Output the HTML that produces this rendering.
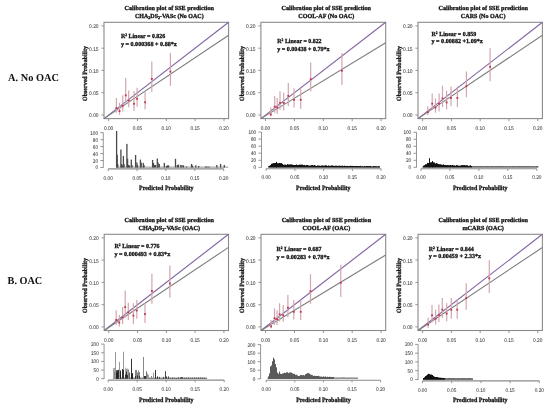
<!DOCTYPE html>
<html><head><meta charset="utf-8"><style>
html,body{margin:0;padding:0;background:#fff;width:550px;height:408px;overflow:hidden;}
svg{display:block;will-change:transform;text-rendering:geometricPrecision;}
</style></head><body>
<svg width="550" height="408" viewBox="0 0 550 408">
<rect width="550" height="408" fill="#fff"/>
<text x="8" y="81.3" font-family="Liberation Serif, serif" font-weight="bold" font-size="10.6" textLength="50.9" lengthAdjust="spacingAndGlyphs" fill="#111">A. No OAC</text>
<text x="7.6" y="283.6" font-family="Liberation Serif, serif" font-weight="bold" font-size="10.6" textLength="34.6" lengthAdjust="spacingAndGlyphs" fill="#111">B. OAC</text>
<text x="169.3" y="9.7" font-family="Liberation Serif, serif" font-weight="bold" stroke="#111" stroke-width="0.3" font-size="6.2" textLength="89.4" lengthAdjust="spacingAndGlyphs" fill="#111" text-anchor="middle">Calibration plot of SSE prediction</text>
<text x="169.3" y="17.5" font-family="Liberation Serif, serif" font-weight="bold" stroke="#111" stroke-width="0.3" font-size="6.2" textLength="68.8" lengthAdjust="spacingAndGlyphs" fill="#111" text-anchor="middle">CHA<tspan font-size="4.2" dy="1.2">2</tspan><tspan dy="-1.2">DS</tspan><tspan font-size="4.2" dy="1.2">2</tspan><tspan dy="-1.2">-VASc (No OAC)</tspan></text>
<text transform="translate(85.1,73.5) rotate(-90)" x="0" y="2" font-family="Liberation Serif, serif" font-weight="bold" stroke="#111" stroke-width="0.3" font-size="6.5" textLength="55" lengthAdjust="spacingAndGlyphs" fill="#222" text-anchor="middle">Observed Probability</text>
<rect x="104.0" y="22.3" width="124.6" height="96.3" fill="none" stroke="#8a8a8a" stroke-width="1.1"/>
<line x1="108.6" y1="118.6" x2="108.6" y2="121.2" stroke="#8a8a8a" stroke-width="0.9"/>
<text x="108.6" y="129.9" font-family="Liberation Sans, sans-serif" stroke="#666" stroke-width="0.08" font-size="5.4" textLength="9.4" lengthAdjust="spacingAndGlyphs" fill="#3a3a3a" text-anchor="middle">0.00</text>
<line x1="101.4" y1="115.0" x2="104.0" y2="115.0" stroke="#8a8a8a" stroke-width="0.9"/>
<text x="98.6" y="117.4" font-family="Liberation Sans, sans-serif" stroke="#666" stroke-width="0.08" font-size="5.4" textLength="9.5" lengthAdjust="spacingAndGlyphs" fill="#3a3a3a" text-anchor="end">0.00</text>
<line x1="137.5" y1="118.6" x2="137.5" y2="121.2" stroke="#8a8a8a" stroke-width="0.9"/>
<text x="137.5" y="129.9" font-family="Liberation Sans, sans-serif" stroke="#666" stroke-width="0.08" font-size="5.4" textLength="9.4" lengthAdjust="spacingAndGlyphs" fill="#3a3a3a" text-anchor="middle">0.05</text>
<line x1="101.4" y1="92.7" x2="104.0" y2="92.7" stroke="#8a8a8a" stroke-width="0.9"/>
<text x="98.6" y="95.1" font-family="Liberation Sans, sans-serif" stroke="#666" stroke-width="0.08" font-size="5.4" textLength="9.5" lengthAdjust="spacingAndGlyphs" fill="#3a3a3a" text-anchor="end">0.05</text>
<line x1="166.3" y1="118.6" x2="166.3" y2="121.2" stroke="#8a8a8a" stroke-width="0.9"/>
<text x="166.3" y="129.9" font-family="Liberation Sans, sans-serif" stroke="#666" stroke-width="0.08" font-size="5.4" textLength="9.4" lengthAdjust="spacingAndGlyphs" fill="#3a3a3a" text-anchor="middle">0.10</text>
<line x1="101.4" y1="70.4" x2="104.0" y2="70.4" stroke="#8a8a8a" stroke-width="0.9"/>
<text x="98.6" y="72.8" font-family="Liberation Sans, sans-serif" stroke="#666" stroke-width="0.08" font-size="5.4" textLength="9.5" lengthAdjust="spacingAndGlyphs" fill="#3a3a3a" text-anchor="end">0.10</text>
<line x1="195.1" y1="118.6" x2="195.1" y2="121.2" stroke="#8a8a8a" stroke-width="0.9"/>
<text x="195.1" y="129.9" font-family="Liberation Sans, sans-serif" stroke="#666" stroke-width="0.08" font-size="5.4" textLength="9.4" lengthAdjust="spacingAndGlyphs" fill="#3a3a3a" text-anchor="middle">0.15</text>
<line x1="101.4" y1="48.2" x2="104.0" y2="48.2" stroke="#8a8a8a" stroke-width="0.9"/>
<text x="98.6" y="50.6" font-family="Liberation Sans, sans-serif" stroke="#666" stroke-width="0.08" font-size="5.4" textLength="9.5" lengthAdjust="spacingAndGlyphs" fill="#3a3a3a" text-anchor="end">0.15</text>
<line x1="224.0" y1="118.6" x2="224.0" y2="121.2" stroke="#8a8a8a" stroke-width="0.9"/>
<text x="224.0" y="129.9" font-family="Liberation Sans, sans-serif" stroke="#666" stroke-width="0.08" font-size="5.4" textLength="9.4" lengthAdjust="spacingAndGlyphs" fill="#3a3a3a" text-anchor="middle">0.20</text>
<line x1="101.4" y1="25.9" x2="104.0" y2="25.9" stroke="#8a8a8a" stroke-width="0.9"/>
<text x="98.6" y="28.3" font-family="Liberation Sans, sans-serif" stroke="#666" stroke-width="0.08" font-size="5.4" textLength="9.5" lengthAdjust="spacingAndGlyphs" fill="#3a3a3a" text-anchor="end">0.20</text>
<line x1="104.0" y1="118.6" x2="228.6" y2="22.3" stroke="#8466a2" stroke-width="1.15"/>
<line x1="104.0" y1="118.6" x2="228.6" y2="35.3" stroke="#7d7d7d" stroke-width="1.1"/>
<line x1="116.4" y1="98.0" x2="116.4" y2="112.7" stroke="#d2a6ae" stroke-width="1.2"/>
<rect x="115.5" y="107.2" width="1.8" height="1.8" fill="#c4304a"/>
<line x1="119.5" y1="102.8" x2="119.5" y2="114.8" stroke="#d2a6ae" stroke-width="1.2"/>
<rect x="118.6" y="110.2" width="1.8" height="1.8" fill="#c4304a"/>
<line x1="122.8" y1="95.2" x2="122.8" y2="111.6" stroke="#d2a6ae" stroke-width="1.2"/>
<rect x="121.9" y="104.8" width="1.8" height="1.8" fill="#c4304a"/>
<line x1="125.7" y1="78.1" x2="125.7" y2="102.8" stroke="#d2a6ae" stroke-width="1.2"/>
<rect x="124.8" y="94.4" width="1.8" height="1.8" fill="#c4304a"/>
<line x1="128.7" y1="90.4" x2="128.7" y2="107.3" stroke="#d2a6ae" stroke-width="1.2"/>
<rect x="127.8" y="99.5" width="1.8" height="1.8" fill="#c4304a"/>
<line x1="134.0" y1="90.9" x2="134.0" y2="111.1" stroke="#d2a6ae" stroke-width="1.2"/>
<rect x="133.1" y="102.9" width="1.8" height="1.8" fill="#c4304a"/>
<line x1="137.1" y1="87.7" x2="137.1" y2="106.8" stroke="#d2a6ae" stroke-width="1.2"/>
<rect x="136.2" y="97.9" width="1.8" height="1.8" fill="#c4304a"/>
<line x1="145.1" y1="91.7" x2="145.1" y2="109.5" stroke="#d2a6ae" stroke-width="1.2"/>
<rect x="144.2" y="101.4" width="1.8" height="1.8" fill="#c4304a"/>
<line x1="151.8" y1="61.4" x2="151.8" y2="91.7" stroke="#d2a6ae" stroke-width="1.2"/>
<rect x="150.9" y="78.0" width="1.8" height="1.8" fill="#c4304a"/>
<line x1="170.4" y1="52.9" x2="170.4" y2="85.7" stroke="#d2a6ae" stroke-width="1.2"/>
<rect x="169.5" y="70.7" width="1.8" height="1.8" fill="#c4304a"/>
<text x="120.9" y="37.9" font-family="Liberation Serif, serif" font-weight="bold" stroke="#111" stroke-width="0.3" font-size="6.2" textLength="44.4" lengthAdjust="spacingAndGlyphs" fill="#111">R<tspan font-size="3.8" dy="-2">2</tspan><tspan dy="2"> Linear = 0.826</tspan></text>
<text x="120.9" y="45.6" font-family="Liberation Serif, serif" font-weight="bold" stroke="#111" stroke-width="0.3" font-size="6.2" textLength="56" lengthAdjust="spacingAndGlyphs" fill="#111">y = 0.000368 + 0.88*x</text>
<line x1="103.3" y1="132.7" x2="103.3" y2="167.7" stroke="#8a8a8a" stroke-width="0.9"/>
<line x1="100.3" y1="167.5" x2="103.3" y2="167.5" stroke="#8a8a8a" stroke-width="0.9"/>
<text x="98.0" y="169.4" font-family="Liberation Sans, sans-serif" stroke="#666" stroke-width="0.08" font-size="5.3" textLength="2.6" lengthAdjust="spacingAndGlyphs" fill="#3a3a3a" text-anchor="end">0</text>
<line x1="100.3" y1="160.5" x2="103.3" y2="160.5" stroke="#8a8a8a" stroke-width="0.9"/>
<text x="98.0" y="162.5" font-family="Liberation Sans, sans-serif" stroke="#666" stroke-width="0.08" font-size="5.3" textLength="5.2" lengthAdjust="spacingAndGlyphs" fill="#3a3a3a" text-anchor="end">20</text>
<line x1="100.3" y1="153.6" x2="103.3" y2="153.6" stroke="#8a8a8a" stroke-width="0.9"/>
<text x="98.0" y="155.5" font-family="Liberation Sans, sans-serif" stroke="#666" stroke-width="0.08" font-size="5.3" textLength="5.2" lengthAdjust="spacingAndGlyphs" fill="#3a3a3a" text-anchor="end">40</text>
<line x1="100.3" y1="146.6" x2="103.3" y2="146.6" stroke="#8a8a8a" stroke-width="0.9"/>
<text x="98.0" y="148.6" font-family="Liberation Sans, sans-serif" stroke="#666" stroke-width="0.08" font-size="5.3" textLength="5.2" lengthAdjust="spacingAndGlyphs" fill="#3a3a3a" text-anchor="end">60</text>
<line x1="100.3" y1="139.7" x2="103.3" y2="139.7" stroke="#8a8a8a" stroke-width="0.9"/>
<text x="98.0" y="141.6" font-family="Liberation Sans, sans-serif" stroke="#666" stroke-width="0.08" font-size="5.3" textLength="5.2" lengthAdjust="spacingAndGlyphs" fill="#3a3a3a" text-anchor="end">80</text>
<line x1="100.3" y1="132.7" x2="103.3" y2="132.7" stroke="#8a8a8a" stroke-width="0.9"/>
<text x="98.0" y="134.6" font-family="Liberation Sans, sans-serif" stroke="#666" stroke-width="0.08" font-size="5.3" textLength="7.8" lengthAdjust="spacingAndGlyphs" fill="#3a3a3a" text-anchor="end">100</text>
<rect x="116.0" y="166.70" width="112.3" height="0.80" fill="#777"/>
<rect x="115.95" y="131.00" width="1.3" height="36.50" fill="#4a4a4a"/>
<rect x="116.55" y="154.80" width="1.3" height="12.70" fill="#4a4a4a"/>
<rect x="117.15" y="164.00" width="1.3" height="3.50" fill="#4a4a4a"/>
<rect x="120.25" y="149.50" width="1.3" height="18.00" fill="#4a4a4a"/>
<rect x="120.85" y="164.00" width="1.3" height="3.50" fill="#4a4a4a"/>
<rect x="121.55" y="165.00" width="1.3" height="2.50" fill="#4a4a4a"/>
<rect x="122.75" y="155.90" width="1.3" height="11.60" fill="#4a4a4a"/>
<rect x="123.35" y="164.00" width="1.3" height="3.50" fill="#4a4a4a"/>
<rect x="126.25" y="143.90" width="1.3" height="23.60" fill="#4a4a4a"/>
<rect x="126.95" y="158.80" width="1.3" height="8.70" fill="#4a4a4a"/>
<rect x="127.95" y="165.00" width="1.3" height="2.50" fill="#4a4a4a"/>
<rect x="128.85" y="165.50" width="1.3" height="2.00" fill="#4a4a4a"/>
<rect x="130.65" y="159.60" width="1.3" height="7.90" fill="#4a4a4a"/>
<rect x="131.35" y="165.00" width="1.3" height="2.50" fill="#4a4a4a"/>
<rect x="134.95" y="155.00" width="1.3" height="12.50" fill="#4a4a4a"/>
<rect x="136.25" y="162.50" width="1.3" height="5.00" fill="#4a4a4a"/>
<rect x="136.85" y="165.00" width="1.3" height="2.50" fill="#4a4a4a"/>
<rect x="139.75" y="159.60" width="1.3" height="7.90" fill="#4a4a4a"/>
<rect x="140.55" y="162.50" width="1.3" height="5.00" fill="#4a4a4a"/>
<rect x="142.65" y="162.90" width="1.3" height="4.60" fill="#4a4a4a"/>
<rect x="143.35" y="165.00" width="1.3" height="2.50" fill="#4a4a4a"/>
<rect x="151.95" y="160.00" width="1.3" height="7.50" fill="#4a4a4a"/>
<rect x="152.85" y="163.00" width="1.3" height="4.50" fill="#4a4a4a"/>
<rect x="153.75" y="165.00" width="1.3" height="2.50" fill="#4a4a4a"/>
<rect x="154.85" y="165.00" width="1.3" height="2.50" fill="#4a4a4a"/>
<rect x="156.65" y="158.50" width="1.3" height="9.00" fill="#4a4a4a"/>
<rect x="157.45" y="162.50" width="1.3" height="5.00" fill="#4a4a4a"/>
<rect x="158.65" y="164.00" width="1.3" height="3.50" fill="#4a4a4a"/>
<rect x="163.65" y="162.90" width="1.3" height="4.60" fill="#4a4a4a"/>
<rect x="165.85" y="165.80" width="1.3" height="1.70" fill="#4a4a4a"/>
<rect x="166.85" y="165.50" width="1.3" height="2.00" fill="#4a4a4a"/>
<rect x="167.85" y="165.30" width="1.3" height="2.20" fill="#4a4a4a"/>
<rect x="174.85" y="158.80" width="1.3" height="8.70" fill="#4a4a4a"/>
<rect x="176.65" y="165.00" width="1.3" height="2.50" fill="#4a4a4a"/>
<rect x="177.85" y="164.50" width="1.3" height="3.00" fill="#4a4a4a"/>
<rect x="180.15" y="165.00" width="1.3" height="2.50" fill="#4a4a4a"/>
<rect x="181.35" y="165.00" width="1.3" height="2.50" fill="#4a4a4a"/>
<rect x="182.85" y="165.30" width="1.3" height="2.20" fill="#4a4a4a"/>
<rect x="185.85" y="166.50" width="1.3" height="1.00" fill="#4a4a4a"/>
<rect x="190.85" y="164.00" width="1.3" height="3.50" fill="#4a4a4a"/>
<rect x="191.85" y="165.50" width="1.3" height="2.00" fill="#4a4a4a"/>
<rect x="195.15" y="165.30" width="1.3" height="2.20" fill="#4a4a4a"/>
<rect x="198.05" y="166.00" width="1.3" height="1.50" fill="#4a4a4a"/>
<rect x="205.05" y="166.50" width="1.3" height="1.00" fill="#4a4a4a"/>
<rect x="206.35" y="166.50" width="1.3" height="1.00" fill="#4a4a4a"/>
<rect x="208.35" y="166.50" width="1.3" height="1.00" fill="#4a4a4a"/>
<rect x="216.15" y="165.00" width="1.3" height="2.50" fill="#4a4a4a"/>
<rect x="219.95" y="164.00" width="1.3" height="3.50" fill="#4a4a4a"/>
<rect x="223.65" y="165.00" width="1.3" height="2.50" fill="#4a4a4a"/>
<line x1="108.2" y1="168.9" x2="223.7" y2="168.9" stroke="#8a8a8a" stroke-width="1.1"/>
<line x1="108.2" y1="168.9" x2="108.2" y2="171.1" stroke="#8a8a8a" stroke-width="0.9"/>
<text x="108.2" y="179.6" font-family="Liberation Sans, sans-serif" stroke="#666" stroke-width="0.08" font-size="5.3" textLength="9.2" lengthAdjust="spacingAndGlyphs" fill="#3a3a3a" text-anchor="middle">0.00</text>
<line x1="137.1" y1="168.9" x2="137.1" y2="171.1" stroke="#8a8a8a" stroke-width="0.9"/>
<text x="137.1" y="179.6" font-family="Liberation Sans, sans-serif" stroke="#666" stroke-width="0.08" font-size="5.3" textLength="9.2" lengthAdjust="spacingAndGlyphs" fill="#3a3a3a" text-anchor="middle">0.05</text>
<line x1="165.9" y1="168.9" x2="165.9" y2="171.1" stroke="#8a8a8a" stroke-width="0.9"/>
<text x="165.9" y="179.6" font-family="Liberation Sans, sans-serif" stroke="#666" stroke-width="0.08" font-size="5.3" textLength="9.2" lengthAdjust="spacingAndGlyphs" fill="#3a3a3a" text-anchor="middle">0.10</text>
<line x1="194.8" y1="168.9" x2="194.8" y2="171.1" stroke="#8a8a8a" stroke-width="0.9"/>
<text x="194.8" y="179.6" font-family="Liberation Sans, sans-serif" stroke="#666" stroke-width="0.08" font-size="5.3" textLength="9.2" lengthAdjust="spacingAndGlyphs" fill="#3a3a3a" text-anchor="middle">0.15</text>
<line x1="223.7" y1="168.9" x2="223.7" y2="171.1" stroke="#8a8a8a" stroke-width="0.9"/>
<text x="223.7" y="179.6" font-family="Liberation Sans, sans-serif" stroke="#666" stroke-width="0.08" font-size="5.3" textLength="9.2" lengthAdjust="spacingAndGlyphs" fill="#3a3a3a" text-anchor="middle">0.20</text>
<text x="166.3" y="190.2" font-family="Liberation Serif, serif" font-weight="bold" stroke="#111" stroke-width="0.3" font-size="6.5" textLength="54.5" lengthAdjust="spacingAndGlyphs" fill="#222" text-anchor="middle">Predicted Probability</text>
<text x="326.3" y="9.7" font-family="Liberation Serif, serif" font-weight="bold" stroke="#111" stroke-width="0.3" font-size="6.2" textLength="89.4" lengthAdjust="spacingAndGlyphs" fill="#111" text-anchor="middle">Calibration plot of SSE prediction</text>
<text x="326.3" y="17.5" font-family="Liberation Serif, serif" font-weight="bold" stroke="#111" stroke-width="0.3" font-size="6.2" textLength="56.1" lengthAdjust="spacingAndGlyphs" fill="#111" text-anchor="middle">COOL-AF (No OAC)</text>
<text transform="translate(242.0,73.5) rotate(-90)" x="0" y="2" font-family="Liberation Serif, serif" font-weight="bold" stroke="#111" stroke-width="0.3" font-size="6.5" textLength="55" lengthAdjust="spacingAndGlyphs" fill="#222" text-anchor="middle">Observed Probability</text>
<rect x="260.9" y="22.3" width="124.8" height="96.3" fill="none" stroke="#8a8a8a" stroke-width="1.1"/>
<line x1="265.5" y1="118.6" x2="265.5" y2="121.2" stroke="#8a8a8a" stroke-width="0.9"/>
<text x="265.5" y="129.9" font-family="Liberation Sans, sans-serif" stroke="#666" stroke-width="0.08" font-size="5.4" textLength="9.4" lengthAdjust="spacingAndGlyphs" fill="#3a3a3a" text-anchor="middle">0.00</text>
<line x1="258.3" y1="115.0" x2="260.9" y2="115.0" stroke="#8a8a8a" stroke-width="0.9"/>
<text x="255.5" y="117.4" font-family="Liberation Sans, sans-serif" stroke="#666" stroke-width="0.08" font-size="5.4" textLength="9.5" lengthAdjust="spacingAndGlyphs" fill="#3a3a3a" text-anchor="end">0.00</text>
<line x1="294.4" y1="118.6" x2="294.4" y2="121.2" stroke="#8a8a8a" stroke-width="0.9"/>
<text x="294.4" y="129.9" font-family="Liberation Sans, sans-serif" stroke="#666" stroke-width="0.08" font-size="5.4" textLength="9.4" lengthAdjust="spacingAndGlyphs" fill="#3a3a3a" text-anchor="middle">0.05</text>
<line x1="258.3" y1="92.7" x2="260.9" y2="92.7" stroke="#8a8a8a" stroke-width="0.9"/>
<text x="255.5" y="95.1" font-family="Liberation Sans, sans-serif" stroke="#666" stroke-width="0.08" font-size="5.4" textLength="9.5" lengthAdjust="spacingAndGlyphs" fill="#3a3a3a" text-anchor="end">0.05</text>
<line x1="323.3" y1="118.6" x2="323.3" y2="121.2" stroke="#8a8a8a" stroke-width="0.9"/>
<text x="323.3" y="129.9" font-family="Liberation Sans, sans-serif" stroke="#666" stroke-width="0.08" font-size="5.4" textLength="9.4" lengthAdjust="spacingAndGlyphs" fill="#3a3a3a" text-anchor="middle">0.10</text>
<line x1="258.3" y1="70.4" x2="260.9" y2="70.4" stroke="#8a8a8a" stroke-width="0.9"/>
<text x="255.5" y="72.8" font-family="Liberation Sans, sans-serif" stroke="#666" stroke-width="0.08" font-size="5.4" textLength="9.5" lengthAdjust="spacingAndGlyphs" fill="#3a3a3a" text-anchor="end">0.10</text>
<line x1="352.2" y1="118.6" x2="352.2" y2="121.2" stroke="#8a8a8a" stroke-width="0.9"/>
<text x="352.2" y="129.9" font-family="Liberation Sans, sans-serif" stroke="#666" stroke-width="0.08" font-size="5.4" textLength="9.4" lengthAdjust="spacingAndGlyphs" fill="#3a3a3a" text-anchor="middle">0.15</text>
<line x1="258.3" y1="48.2" x2="260.9" y2="48.2" stroke="#8a8a8a" stroke-width="0.9"/>
<text x="255.5" y="50.6" font-family="Liberation Sans, sans-serif" stroke="#666" stroke-width="0.08" font-size="5.4" textLength="9.5" lengthAdjust="spacingAndGlyphs" fill="#3a3a3a" text-anchor="end">0.15</text>
<line x1="381.1" y1="118.6" x2="381.1" y2="121.2" stroke="#8a8a8a" stroke-width="0.9"/>
<text x="381.1" y="129.9" font-family="Liberation Sans, sans-serif" stroke="#666" stroke-width="0.08" font-size="5.4" textLength="9.4" lengthAdjust="spacingAndGlyphs" fill="#3a3a3a" text-anchor="middle">0.20</text>
<line x1="258.3" y1="25.9" x2="260.9" y2="25.9" stroke="#8a8a8a" stroke-width="0.9"/>
<text x="255.5" y="28.3" font-family="Liberation Sans, sans-serif" stroke="#666" stroke-width="0.08" font-size="5.4" textLength="9.5" lengthAdjust="spacingAndGlyphs" fill="#3a3a3a" text-anchor="end">0.20</text>
<line x1="260.9" y1="118.6" x2="385.7" y2="22.3" stroke="#8466a2" stroke-width="1.15"/>
<line x1="260.9" y1="118.6" x2="385.7" y2="42.8" stroke="#7d7d7d" stroke-width="1.1"/>
<line x1="270.8" y1="107.5" x2="270.8" y2="116.5" stroke="#d2a6ae" stroke-width="1.2"/>
<rect x="269.9" y="113.6" width="1.8" height="1.8" fill="#c4304a"/>
<line x1="274.7" y1="95.9" x2="274.7" y2="112.7" stroke="#d2a6ae" stroke-width="1.2"/>
<rect x="273.8" y="105.8" width="1.8" height="1.8" fill="#c4304a"/>
<line x1="277.2" y1="98.0" x2="277.2" y2="114.0" stroke="#d2a6ae" stroke-width="1.2"/>
<rect x="276.3" y="106.6" width="1.8" height="1.8" fill="#c4304a"/>
<line x1="280.0" y1="91.3" x2="280.0" y2="110.1" stroke="#d2a6ae" stroke-width="1.2"/>
<rect x="279.1" y="102.0" width="1.8" height="1.8" fill="#c4304a"/>
<line x1="283.7" y1="92.8" x2="283.7" y2="110.6" stroke="#d2a6ae" stroke-width="1.2"/>
<rect x="282.8" y="102.0" width="1.8" height="1.8" fill="#c4304a"/>
<line x1="288.3" y1="83.0" x2="288.3" y2="106.2" stroke="#d2a6ae" stroke-width="1.2"/>
<rect x="287.4" y="95.0" width="1.8" height="1.8" fill="#c4304a"/>
<line x1="294.0" y1="88.2" x2="294.0" y2="107.5" stroke="#d2a6ae" stroke-width="1.2"/>
<rect x="293.1" y="98.9" width="1.8" height="1.8" fill="#c4304a"/>
<line x1="300.7" y1="88.2" x2="300.7" y2="108.8" stroke="#d2a6ae" stroke-width="1.2"/>
<rect x="299.8" y="98.9" width="1.8" height="1.8" fill="#c4304a"/>
<line x1="310.7" y1="62.5" x2="310.7" y2="91.6" stroke="#d2a6ae" stroke-width="1.2"/>
<rect x="309.8" y="78.3" width="1.8" height="1.8" fill="#c4304a"/>
<line x1="341.9" y1="53.0" x2="341.9" y2="85.1" stroke="#d2a6ae" stroke-width="1.2"/>
<rect x="341.0" y="69.8" width="1.8" height="1.8" fill="#c4304a"/>
<text x="277.3" y="43.0" font-family="Liberation Serif, serif" font-weight="bold" stroke="#111" stroke-width="0.3" font-size="6.2" textLength="44.3" lengthAdjust="spacingAndGlyphs" fill="#111">R<tspan font-size="3.8" dy="-2">2</tspan><tspan dy="2"> Linear = 0.822</tspan></text>
<text x="277.3" y="51.0" font-family="Liberation Serif, serif" font-weight="bold" stroke="#111" stroke-width="0.3" font-size="6.2" textLength="52.3" lengthAdjust="spacingAndGlyphs" fill="#111">y = 0.00438 + 0.79*x</text>
<line x1="261.5" y1="132.1" x2="261.5" y2="167.5" stroke="#8a8a8a" stroke-width="0.9"/>
<line x1="258.5" y1="167.3" x2="261.5" y2="167.3" stroke="#8a8a8a" stroke-width="0.9"/>
<text x="256.2" y="169.2" font-family="Liberation Sans, sans-serif" stroke="#666" stroke-width="0.08" font-size="5.3" textLength="2.6" lengthAdjust="spacingAndGlyphs" fill="#3a3a3a" text-anchor="end">0</text>
<line x1="258.5" y1="160.3" x2="261.5" y2="160.3" stroke="#8a8a8a" stroke-width="0.9"/>
<text x="256.2" y="162.2" font-family="Liberation Sans, sans-serif" stroke="#666" stroke-width="0.08" font-size="5.3" textLength="5.2" lengthAdjust="spacingAndGlyphs" fill="#3a3a3a" text-anchor="end">20</text>
<line x1="258.5" y1="153.2" x2="261.5" y2="153.2" stroke="#8a8a8a" stroke-width="0.9"/>
<text x="256.2" y="155.2" font-family="Liberation Sans, sans-serif" stroke="#666" stroke-width="0.08" font-size="5.3" textLength="5.2" lengthAdjust="spacingAndGlyphs" fill="#3a3a3a" text-anchor="end">40</text>
<line x1="258.5" y1="146.2" x2="261.5" y2="146.2" stroke="#8a8a8a" stroke-width="0.9"/>
<text x="256.2" y="148.1" font-family="Liberation Sans, sans-serif" stroke="#666" stroke-width="0.08" font-size="5.3" textLength="5.2" lengthAdjust="spacingAndGlyphs" fill="#3a3a3a" text-anchor="end">60</text>
<line x1="258.5" y1="139.1" x2="261.5" y2="139.1" stroke="#8a8a8a" stroke-width="0.9"/>
<text x="256.2" y="141.1" font-family="Liberation Sans, sans-serif" stroke="#666" stroke-width="0.08" font-size="5.3" textLength="5.2" lengthAdjust="spacingAndGlyphs" fill="#3a3a3a" text-anchor="end">80</text>
<line x1="258.5" y1="132.1" x2="261.5" y2="132.1" stroke="#8a8a8a" stroke-width="0.9"/>
<text x="256.2" y="134.0" font-family="Liberation Sans, sans-serif" stroke="#666" stroke-width="0.08" font-size="5.3" textLength="7.8" lengthAdjust="spacingAndGlyphs" fill="#3a3a3a" text-anchor="end">100</text>
<rect x="268.0" y="166.40" width="112.0" height="0.90" fill="#333"/>
<rect x="268" y="166.54" width="1" height="0.76" fill="#111"/>
<rect x="269" y="166.38" width="1" height="0.92" fill="#111"/>
<rect x="269" y="165.74" width="1" height="1.56" fill="#111"/>
<rect x="270" y="165.50" width="1" height="1.80" fill="#111"/>
<rect x="270" y="165.15" width="1" height="2.15" fill="#111"/>
<rect x="271" y="164.22" width="1" height="3.08" fill="#111"/>
<rect x="271" y="163.79" width="1" height="3.51" fill="#111"/>
<rect x="272" y="164.24" width="1" height="3.06" fill="#111"/>
<rect x="272" y="163.44" width="1" height="3.86" fill="#111"/>
<rect x="273" y="163.20" width="1" height="4.10" fill="#111"/>
<rect x="273" y="163.74" width="1" height="3.56" fill="#111"/>
<rect x="274" y="163.12" width="1" height="4.18" fill="#111"/>
<rect x="274" y="163.42" width="1" height="3.88" fill="#111"/>
<rect x="275" y="163.00" width="1" height="4.30" fill="#111"/>
<rect x="275" y="163.10" width="1" height="4.20" fill="#111"/>
<rect x="276" y="162.55" width="1" height="4.75" fill="#111"/>
<rect x="276" y="161.93" width="1" height="5.37" fill="#111"/>
<rect x="277" y="163.57" width="1" height="3.73" fill="#111"/>
<rect x="277" y="163.26" width="1" height="4.04" fill="#111"/>
<rect x="278" y="163.51" width="1" height="3.79" fill="#111"/>
<rect x="278" y="163.48" width="1" height="3.82" fill="#111"/>
<rect x="279" y="162.91" width="1" height="4.39" fill="#111"/>
<rect x="279" y="163.64" width="1" height="3.66" fill="#111"/>
<rect x="280" y="163.51" width="1" height="3.79" fill="#111"/>
<rect x="280" y="163.25" width="1" height="4.05" fill="#111"/>
<rect x="281" y="163.02" width="1" height="4.28" fill="#111"/>
<rect x="281" y="164.02" width="1" height="3.28" fill="#111"/>
<rect x="282" y="163.89" width="1" height="3.41" fill="#111"/>
<rect x="282" y="164.40" width="1" height="2.90" fill="#111"/>
<rect x="283" y="164.82" width="1" height="2.48" fill="#111"/>
<rect x="283" y="164.91" width="1" height="2.39" fill="#111"/>
<rect x="284" y="165.12" width="1" height="2.18" fill="#111"/>
<rect x="284" y="164.59" width="1" height="2.71" fill="#111"/>
<rect x="285" y="165.00" width="1" height="2.30" fill="#111"/>
<rect x="285" y="164.64" width="1" height="2.66" fill="#111"/>
<rect x="286" y="165.14" width="1" height="2.16" fill="#111"/>
<rect x="286" y="165.08" width="1" height="2.22" fill="#111"/>
<rect x="287" y="164.30" width="1" height="3.00" fill="#111"/>
<rect x="287" y="164.34" width="1" height="2.96" fill="#111"/>
<rect x="288" y="164.42" width="1" height="2.88" fill="#111"/>
<rect x="288" y="165.17" width="1" height="2.13" fill="#111"/>
<rect x="289" y="164.64" width="1" height="2.66" fill="#111"/>
<rect x="289" y="164.83" width="1" height="2.47" fill="#111"/>
<rect x="290" y="164.50" width="1" height="2.80" fill="#111"/>
<rect x="290" y="164.72" width="1" height="2.58" fill="#111"/>
<rect x="291" y="164.61" width="1" height="2.69" fill="#111"/>
<rect x="291" y="164.58" width="1" height="2.72" fill="#111"/>
<rect x="292" y="164.83" width="1" height="2.47" fill="#111"/>
<rect x="292" y="164.83" width="1" height="2.47" fill="#111"/>
<rect x="293" y="165.16" width="1" height="2.14" fill="#111"/>
<rect x="293" y="164.95" width="1" height="2.35" fill="#111"/>
<rect x="294" y="165.21" width="1" height="2.09" fill="#111"/>
<rect x="294" y="165.15" width="1" height="2.15" fill="#111"/>
<rect x="295" y="165.29" width="1" height="2.01" fill="#111"/>
<rect x="295" y="164.98" width="1" height="2.32" fill="#111"/>
<rect x="296" y="164.48" width="1" height="2.82" fill="#111"/>
<rect x="296" y="165.19" width="1" height="2.11" fill="#111"/>
<rect x="297" y="165.30" width="1" height="2.00" fill="#111"/>
<rect x="297" y="165.25" width="1" height="2.05" fill="#111"/>
<rect x="298" y="164.93" width="1" height="2.37" fill="#111"/>
<rect x="298" y="165.08" width="1" height="2.22" fill="#111"/>
<rect x="299" y="164.59" width="1" height="2.71" fill="#111"/>
<rect x="299" y="165.22" width="1" height="2.08" fill="#111"/>
<rect x="300" y="164.97" width="1" height="2.33" fill="#111"/>
<rect x="300" y="164.73" width="1" height="2.57" fill="#111"/>
<rect x="301" y="164.55" width="1" height="2.75" fill="#111"/>
<rect x="301" y="165.39" width="1" height="1.91" fill="#111"/>
<rect x="302" y="165.56" width="1" height="1.74" fill="#111"/>
<rect x="302" y="164.71" width="1" height="2.59" fill="#111"/>
<rect x="303" y="165.46" width="1" height="1.84" fill="#111"/>
<rect x="303" y="165.12" width="1" height="2.18" fill="#111"/>
<rect x="304" y="164.90" width="1" height="2.40" fill="#111"/>
<rect x="304" y="165.09" width="1" height="2.21" fill="#111"/>
<rect x="305" y="165.61" width="1" height="1.69" fill="#111"/>
<rect x="305" y="165.75" width="1" height="1.55" fill="#111"/>
<rect x="306" y="164.97" width="1" height="2.33" fill="#111"/>
<rect x="306" y="165.58" width="1" height="1.72" fill="#111"/>
<rect x="307" y="165.06" width="1" height="2.24" fill="#111"/>
<rect x="307" y="165.77" width="1" height="1.53" fill="#111"/>
<rect x="308" y="165.43" width="1" height="1.87" fill="#111"/>
<rect x="308" y="165.99" width="1" height="1.31" fill="#111"/>
<rect x="309" y="166.09" width="1" height="1.21" fill="#111"/>
<rect x="309" y="165.62" width="1" height="1.68" fill="#111"/>
<rect x="310" y="166.12" width="1" height="1.18" fill="#111"/>
<rect x="310" y="165.43" width="1" height="1.87" fill="#111"/>
<rect x="311" y="165.20" width="1" height="2.10" fill="#111"/>
<rect x="311" y="165.73" width="1" height="1.57" fill="#111"/>
<rect x="312" y="165.16" width="1" height="2.14" fill="#111"/>
<rect x="312" y="165.33" width="1" height="1.97" fill="#111"/>
<rect x="313" y="165.55" width="1" height="1.75" fill="#111"/>
<rect x="313" y="165.76" width="1" height="1.54" fill="#111"/>
<rect x="314" y="165.31" width="1" height="1.99" fill="#111"/>
<rect x="314" y="165.20" width="1" height="2.10" fill="#111"/>
<rect x="315" y="166.03" width="1" height="1.27" fill="#111"/>
<rect x="315" y="165.48" width="1" height="1.82" fill="#111"/>
<rect x="316" y="166.13" width="1" height="1.17" fill="#111"/>
<rect x="316" y="166.07" width="1" height="1.23" fill="#111"/>
<rect x="317" y="165.55" width="1" height="1.75" fill="#111"/>
<rect x="317" y="165.64" width="1" height="1.66" fill="#111"/>
<rect x="318" y="165.70" width="1" height="1.60" fill="#111"/>
<rect x="318" y="165.83" width="1" height="1.47" fill="#111"/>
<rect x="319" y="165.79" width="1" height="1.51" fill="#111"/>
<rect x="319" y="165.76" width="1" height="1.54" fill="#111"/>
<rect x="320" y="165.82" width="1" height="1.48" fill="#111"/>
<rect x="320" y="166.15" width="1" height="1.15" fill="#111"/>
<rect x="321" y="165.73" width="1" height="1.57" fill="#111"/>
<rect x="321" y="165.66" width="1" height="1.64" fill="#111"/>
<rect x="322" y="165.96" width="1" height="1.34" fill="#111"/>
<rect x="322" y="165.49" width="1" height="1.81" fill="#111"/>
<rect x="323" y="165.56" width="1" height="1.74" fill="#111"/>
<rect x="323" y="166.25" width="1" height="1.05" fill="#111"/>
<rect x="324" y="165.80" width="1" height="1.50" fill="#111"/>
<rect x="324" y="165.84" width="1" height="1.46" fill="#111"/>
<rect x="325" y="165.31" width="1" height="1.99" fill="#111"/>
<rect x="325" y="165.73" width="1" height="1.57" fill="#111"/>
<rect x="326" y="165.90" width="1" height="1.40" fill="#111"/>
<rect x="326" y="165.35" width="1" height="1.95" fill="#111"/>
<rect x="327" y="165.96" width="1" height="1.34" fill="#111"/>
<rect x="327" y="165.98" width="1" height="1.32" fill="#111"/>
<rect x="328" y="165.42" width="1" height="1.88" fill="#111"/>
<rect x="328" y="166.00" width="1" height="1.30" fill="#111"/>
<rect x="329" y="165.85" width="1" height="1.45" fill="#111"/>
<rect x="329" y="166.07" width="1" height="1.23" fill="#111"/>
<rect x="330" y="165.75" width="1" height="1.55" fill="#111"/>
<rect x="330" y="166.11" width="1" height="1.19" fill="#111"/>
<rect x="331" y="166.15" width="1" height="1.15" fill="#111"/>
<rect x="331" y="165.44" width="1" height="1.86" fill="#111"/>
<rect x="332" y="165.49" width="1" height="1.81" fill="#111"/>
<rect x="332" y="166.11" width="1" height="1.19" fill="#111"/>
<rect x="333" y="166.41" width="1" height="0.89" fill="#111"/>
<rect x="333" y="165.70" width="1" height="1.60" fill="#111"/>
<rect x="334" y="165.92" width="1" height="1.38" fill="#111"/>
<rect x="334" y="166.06" width="1" height="1.24" fill="#111"/>
<rect x="335" y="165.80" width="1" height="1.50" fill="#111"/>
<rect x="335" y="165.85" width="1" height="1.45" fill="#111"/>
<rect x="336" y="165.80" width="1" height="1.50" fill="#111"/>
<rect x="336" y="165.87" width="1" height="1.43" fill="#111"/>
<rect x="337" y="166.10" width="1" height="1.20" fill="#111"/>
<rect x="337" y="165.81" width="1" height="1.49" fill="#111"/>
<rect x="338" y="165.90" width="1" height="1.40" fill="#111"/>
<rect x="338" y="166.30" width="1" height="1.00" fill="#111"/>
<rect x="339" y="165.56" width="1" height="1.74" fill="#111"/>
<rect x="339" y="166.11" width="1" height="1.19" fill="#111"/>
<rect x="340" y="166.29" width="1" height="1.01" fill="#111"/>
<rect x="340" y="165.87" width="1" height="1.43" fill="#111"/>
<rect x="341" y="165.79" width="1" height="1.51" fill="#111"/>
<rect x="341" y="166.38" width="1" height="0.92" fill="#111"/>
<rect x="342" y="165.82" width="1" height="1.48" fill="#111"/>
<rect x="342" y="165.77" width="1" height="1.53" fill="#111"/>
<rect x="343" y="166.03" width="1" height="1.27" fill="#111"/>
<rect x="343" y="166.30" width="1" height="1.00" fill="#111"/>
<rect x="344" y="165.71" width="1" height="1.59" fill="#111"/>
<rect x="344" y="165.94" width="1" height="1.36" fill="#111"/>
<rect x="345" y="165.96" width="1" height="1.34" fill="#111"/>
<rect x="345" y="166.47" width="1" height="0.83" fill="#111"/>
<rect x="346" y="166.08" width="1" height="1.22" fill="#111"/>
<rect x="346" y="166.50" width="1" height="0.80" fill="#111"/>
<rect x="347" y="165.82" width="1" height="1.48" fill="#111"/>
<rect x="347" y="166.00" width="1" height="1.30" fill="#111"/>
<rect x="348" y="166.32" width="1" height="0.98" fill="#111"/>
<rect x="348" y="166.56" width="1" height="0.74" fill="#111"/>
<rect x="349" y="166.14" width="1" height="1.16" fill="#111"/>
<rect x="349" y="165.92" width="1" height="1.38" fill="#111"/>
<rect x="350" y="165.82" width="1" height="1.48" fill="#111"/>
<rect x="350" y="166.24" width="1" height="1.06" fill="#111"/>
<rect x="351" y="165.90" width="1" height="1.40" fill="#111"/>
<rect x="351" y="166.53" width="1" height="0.77" fill="#111"/>
<rect x="352" y="166.57" width="1" height="0.73" fill="#111"/>
<rect x="352" y="165.92" width="1" height="1.38" fill="#111"/>
<rect x="353" y="166.02" width="1" height="1.28" fill="#111"/>
<rect x="353" y="166.55" width="1" height="0.75" fill="#111"/>
<rect x="354" y="166.40" width="1" height="0.90" fill="#111"/>
<rect x="354" y="166.57" width="1" height="0.73" fill="#111"/>
<rect x="355" y="166.11" width="1" height="1.19" fill="#111"/>
<rect x="355" y="165.90" width="1" height="1.40" fill="#111"/>
<rect x="356" y="166.07" width="1" height="1.23" fill="#111"/>
<rect x="356" y="166.58" width="1" height="0.72" fill="#111"/>
<rect x="357" y="166.06" width="1" height="1.24" fill="#111"/>
<rect x="357" y="166.15" width="1" height="1.15" fill="#111"/>
<rect x="358" y="166.22" width="1" height="1.08" fill="#111"/>
<rect x="358" y="166.23" width="1" height="1.07" fill="#111"/>
<rect x="359" y="166.23" width="1" height="1.07" fill="#111"/>
<rect x="359" y="166.75" width="1" height="0.55" fill="#111"/>
<rect x="360" y="165.99" width="1" height="1.31" fill="#111"/>
<rect x="360" y="165.84" width="1" height="1.46" fill="#111"/>
<rect x="361" y="166.79" width="1" height="0.51" fill="#111"/>
<rect x="361" y="166.73" width="1" height="0.57" fill="#111"/>
<rect x="362" y="166.85" width="1" height="0.45" fill="#111"/>
<rect x="362" y="166.30" width="1" height="1.00" fill="#111"/>
<rect x="363" y="166.82" width="1" height="0.48" fill="#111"/>
<rect x="363" y="166.81" width="1" height="0.49" fill="#111"/>
<rect x="364" y="166.11" width="1" height="1.19" fill="#111"/>
<rect x="364" y="166.64" width="1" height="0.66" fill="#111"/>
<rect x="365" y="166.74" width="1" height="0.56" fill="#111"/>
<rect x="365" y="166.57" width="1" height="0.73" fill="#111"/>
<rect x="366" y="166.44" width="1" height="0.86" fill="#111"/>
<rect x="366" y="166.22" width="1" height="1.08" fill="#111"/>
<rect x="367" y="166.28" width="1" height="1.02" fill="#111"/>
<rect x="367" y="166.18" width="1" height="1.12" fill="#111"/>
<rect x="368" y="166.03" width="1" height="1.27" fill="#111"/>
<rect x="368" y="166.56" width="1" height="0.74" fill="#111"/>
<rect x="369" y="166.27" width="1" height="1.03" fill="#111"/>
<rect x="369" y="166.80" width="1" height="0.50" fill="#111"/>
<rect x="370" y="166.05" width="1" height="1.25" fill="#111"/>
<rect x="370" y="166.91" width="1" height="0.39" fill="#111"/>
<rect x="371" y="166.71" width="1" height="0.59" fill="#111"/>
<rect x="371" y="166.95" width="1" height="0.35" fill="#111"/>
<rect x="372" y="166.94" width="1" height="0.36" fill="#111"/>
<rect x="372" y="166.95" width="1" height="0.35" fill="#111"/>
<rect x="373" y="166.64" width="1" height="0.66" fill="#111"/>
<rect x="373" y="166.08" width="1" height="1.22" fill="#111"/>
<rect x="374" y="166.83" width="1" height="0.47" fill="#111"/>
<rect x="374" y="166.26" width="1" height="1.04" fill="#111"/>
<rect x="375" y="166.40" width="1" height="0.90" fill="#111"/>
<rect x="375" y="166.77" width="1" height="0.53" fill="#111"/>
<rect x="376" y="166.64" width="1" height="0.66" fill="#111"/>
<rect x="376" y="166.54" width="1" height="0.76" fill="#111"/>
<rect x="377" y="167.00" width="1" height="0.30" fill="#111"/>
<rect x="377" y="166.76" width="1" height="0.54" fill="#111"/>
<rect x="378" y="166.50" width="1" height="0.80" fill="#111"/>
<rect x="378" y="166.42" width="1" height="0.88" fill="#111"/>
<rect x="379" y="167.00" width="1" height="0.30" fill="#111"/>
<rect x="379" y="166.67" width="1" height="0.63" fill="#111"/>
<rect x="276" y="161.90" width="1" height="5.40" fill="#111"/>
<line x1="266.1" y1="168.7" x2="381.1" y2="168.7" stroke="#8a8a8a" stroke-width="1.1"/>
<line x1="266.1" y1="168.7" x2="266.1" y2="170.9" stroke="#8a8a8a" stroke-width="0.9"/>
<text x="266.1" y="179.4" font-family="Liberation Sans, sans-serif" stroke="#666" stroke-width="0.08" font-size="5.3" textLength="9.2" lengthAdjust="spacingAndGlyphs" fill="#3a3a3a" text-anchor="middle">0.00</text>
<line x1="294.9" y1="168.7" x2="294.9" y2="170.9" stroke="#8a8a8a" stroke-width="0.9"/>
<text x="294.9" y="179.4" font-family="Liberation Sans, sans-serif" stroke="#666" stroke-width="0.08" font-size="5.3" textLength="9.2" lengthAdjust="spacingAndGlyphs" fill="#3a3a3a" text-anchor="middle">0.05</text>
<line x1="323.6" y1="168.7" x2="323.6" y2="170.9" stroke="#8a8a8a" stroke-width="0.9"/>
<text x="323.6" y="179.4" font-family="Liberation Sans, sans-serif" stroke="#666" stroke-width="0.08" font-size="5.3" textLength="9.2" lengthAdjust="spacingAndGlyphs" fill="#3a3a3a" text-anchor="middle">0.10</text>
<line x1="352.4" y1="168.7" x2="352.4" y2="170.9" stroke="#8a8a8a" stroke-width="0.9"/>
<text x="352.4" y="179.4" font-family="Liberation Sans, sans-serif" stroke="#666" stroke-width="0.08" font-size="5.3" textLength="9.2" lengthAdjust="spacingAndGlyphs" fill="#3a3a3a" text-anchor="middle">0.15</text>
<line x1="381.1" y1="168.7" x2="381.1" y2="170.9" stroke="#8a8a8a" stroke-width="0.9"/>
<text x="381.1" y="179.4" font-family="Liberation Sans, sans-serif" stroke="#666" stroke-width="0.08" font-size="5.3" textLength="9.2" lengthAdjust="spacingAndGlyphs" fill="#3a3a3a" text-anchor="middle">0.20</text>
<text x="323.3" y="190.2" font-family="Liberation Serif, serif" font-weight="bold" stroke="#111" stroke-width="0.3" font-size="6.5" textLength="54.5" lengthAdjust="spacingAndGlyphs" fill="#222" text-anchor="middle">Predicted Probability</text>
<text x="483.2" y="9.7" font-family="Liberation Serif, serif" font-weight="bold" stroke="#111" stroke-width="0.3" font-size="6.2" textLength="89.4" lengthAdjust="spacingAndGlyphs" fill="#111" text-anchor="middle">Calibration plot of SSE prediction</text>
<text x="483.2" y="17.5" font-family="Liberation Serif, serif" font-weight="bold" stroke="#111" stroke-width="0.3" font-size="6.2" textLength="44.7" lengthAdjust="spacingAndGlyphs" fill="#111" text-anchor="middle">CARS (No OAC)</text>
<text transform="translate(399.1,73.5) rotate(-90)" x="0" y="2" font-family="Liberation Serif, serif" font-weight="bold" stroke="#111" stroke-width="0.3" font-size="6.5" textLength="55" lengthAdjust="spacingAndGlyphs" fill="#222" text-anchor="middle">Observed Probability</text>
<rect x="418.0" y="22.3" width="124.4" height="96.3" fill="none" stroke="#8a8a8a" stroke-width="1.1"/>
<line x1="422.6" y1="118.6" x2="422.6" y2="121.2" stroke="#8a8a8a" stroke-width="0.9"/>
<text x="422.6" y="129.9" font-family="Liberation Sans, sans-serif" stroke="#666" stroke-width="0.08" font-size="5.4" textLength="9.4" lengthAdjust="spacingAndGlyphs" fill="#3a3a3a" text-anchor="middle">0.00</text>
<line x1="415.4" y1="115.0" x2="418.0" y2="115.0" stroke="#8a8a8a" stroke-width="0.9"/>
<text x="412.6" y="117.4" font-family="Liberation Sans, sans-serif" stroke="#666" stroke-width="0.08" font-size="5.4" textLength="9.5" lengthAdjust="spacingAndGlyphs" fill="#3a3a3a" text-anchor="end">0.00</text>
<line x1="451.4" y1="118.6" x2="451.4" y2="121.2" stroke="#8a8a8a" stroke-width="0.9"/>
<text x="451.4" y="129.9" font-family="Liberation Sans, sans-serif" stroke="#666" stroke-width="0.08" font-size="5.4" textLength="9.4" lengthAdjust="spacingAndGlyphs" fill="#3a3a3a" text-anchor="middle">0.05</text>
<line x1="415.4" y1="92.7" x2="418.0" y2="92.7" stroke="#8a8a8a" stroke-width="0.9"/>
<text x="412.6" y="95.1" font-family="Liberation Sans, sans-serif" stroke="#666" stroke-width="0.08" font-size="5.4" textLength="9.5" lengthAdjust="spacingAndGlyphs" fill="#3a3a3a" text-anchor="end">0.05</text>
<line x1="480.2" y1="118.6" x2="480.2" y2="121.2" stroke="#8a8a8a" stroke-width="0.9"/>
<text x="480.2" y="129.9" font-family="Liberation Sans, sans-serif" stroke="#666" stroke-width="0.08" font-size="5.4" textLength="9.4" lengthAdjust="spacingAndGlyphs" fill="#3a3a3a" text-anchor="middle">0.10</text>
<line x1="415.4" y1="70.4" x2="418.0" y2="70.4" stroke="#8a8a8a" stroke-width="0.9"/>
<text x="412.6" y="72.8" font-family="Liberation Sans, sans-serif" stroke="#666" stroke-width="0.08" font-size="5.4" textLength="9.5" lengthAdjust="spacingAndGlyphs" fill="#3a3a3a" text-anchor="end">0.10</text>
<line x1="509.0" y1="118.6" x2="509.0" y2="121.2" stroke="#8a8a8a" stroke-width="0.9"/>
<text x="509.0" y="129.9" font-family="Liberation Sans, sans-serif" stroke="#666" stroke-width="0.08" font-size="5.4" textLength="9.4" lengthAdjust="spacingAndGlyphs" fill="#3a3a3a" text-anchor="middle">0.15</text>
<line x1="415.4" y1="48.2" x2="418.0" y2="48.2" stroke="#8a8a8a" stroke-width="0.9"/>
<text x="412.6" y="50.6" font-family="Liberation Sans, sans-serif" stroke="#666" stroke-width="0.08" font-size="5.4" textLength="9.5" lengthAdjust="spacingAndGlyphs" fill="#3a3a3a" text-anchor="end">0.15</text>
<line x1="537.8" y1="118.6" x2="537.8" y2="121.2" stroke="#8a8a8a" stroke-width="0.9"/>
<text x="537.8" y="129.9" font-family="Liberation Sans, sans-serif" stroke="#666" stroke-width="0.08" font-size="5.4" textLength="9.4" lengthAdjust="spacingAndGlyphs" fill="#3a3a3a" text-anchor="middle">0.20</text>
<line x1="415.4" y1="25.9" x2="418.0" y2="25.9" stroke="#8a8a8a" stroke-width="0.9"/>
<text x="412.6" y="28.3" font-family="Liberation Sans, sans-serif" stroke="#666" stroke-width="0.08" font-size="5.4" textLength="9.5" lengthAdjust="spacingAndGlyphs" fill="#3a3a3a" text-anchor="end">0.20</text>
<line x1="418.0" y1="118.6" x2="542.4" y2="22.3" stroke="#8466a2" stroke-width="1.15"/>
<line x1="418.0" y1="118.6" x2="542.4" y2="35.3" stroke="#7d7d7d" stroke-width="1.1"/>
<line x1="427.8" y1="106.2" x2="427.8" y2="115.2" stroke="#d2a6ae" stroke-width="1.2"/>
<rect x="426.9" y="111.2" width="1.8" height="1.8" fill="#c4304a"/>
<line x1="432.2" y1="93.4" x2="432.2" y2="110.1" stroke="#d2a6ae" stroke-width="1.2"/>
<rect x="431.3" y="102.8" width="1.8" height="1.8" fill="#c4304a"/>
<line x1="435.5" y1="98.5" x2="435.5" y2="112.7" stroke="#d2a6ae" stroke-width="1.2"/>
<rect x="434.6" y="106.6" width="1.8" height="1.8" fill="#c4304a"/>
<line x1="439.1" y1="93.4" x2="439.1" y2="111.4" stroke="#d2a6ae" stroke-width="1.2"/>
<rect x="438.2" y="102.8" width="1.8" height="1.8" fill="#c4304a"/>
<line x1="442.5" y1="85.6" x2="442.5" y2="107.0" stroke="#d2a6ae" stroke-width="1.2"/>
<rect x="441.6" y="97.6" width="1.8" height="1.8" fill="#c4304a"/>
<line x1="446.6" y1="90.8" x2="446.6" y2="109.6" stroke="#d2a6ae" stroke-width="1.2"/>
<rect x="445.7" y="101.5" width="1.8" height="1.8" fill="#c4304a"/>
<line x1="451.0" y1="86.4" x2="451.0" y2="106.2" stroke="#d2a6ae" stroke-width="1.2"/>
<rect x="450.1" y="97.1" width="1.8" height="1.8" fill="#c4304a"/>
<line x1="457.4" y1="86.4" x2="457.4" y2="107.0" stroke="#d2a6ae" stroke-width="1.2"/>
<rect x="456.5" y="97.1" width="1.8" height="1.8" fill="#c4304a"/>
<line x1="466.4" y1="71.5" x2="466.4" y2="97.2" stroke="#d2a6ae" stroke-width="1.2"/>
<rect x="465.5" y="85.3" width="1.8" height="1.8" fill="#c4304a"/>
<line x1="490.1" y1="48.3" x2="490.1" y2="81.3" stroke="#d2a6ae" stroke-width="1.2"/>
<rect x="489.2" y="65.9" width="1.8" height="1.8" fill="#c4304a"/>
<text x="431.5" y="35.8" font-family="Liberation Serif, serif" font-weight="bold" stroke="#111" stroke-width="0.3" font-size="6.2" textLength="44.7" lengthAdjust="spacingAndGlyphs" fill="#111">R<tspan font-size="3.8" dy="-2">2</tspan><tspan dy="2"> Linear = 0.859</tspan></text>
<text x="431.5" y="43.4" font-family="Liberation Serif, serif" font-weight="bold" stroke="#111" stroke-width="0.3" font-size="6.2" textLength="51.4" lengthAdjust="spacingAndGlyphs" fill="#111">y = 0.00882 +1.09*x</text>
<line x1="416.5" y1="132.3" x2="416.5" y2="167.5" stroke="#8a8a8a" stroke-width="0.9"/>
<line x1="413.5" y1="167.3" x2="416.5" y2="167.3" stroke="#8a8a8a" stroke-width="0.9"/>
<text x="411.2" y="169.2" font-family="Liberation Sans, sans-serif" stroke="#666" stroke-width="0.08" font-size="5.3" textLength="2.6" lengthAdjust="spacingAndGlyphs" fill="#3a3a3a" text-anchor="end">0</text>
<line x1="413.5" y1="160.3" x2="416.5" y2="160.3" stroke="#8a8a8a" stroke-width="0.9"/>
<text x="411.2" y="162.2" font-family="Liberation Sans, sans-serif" stroke="#666" stroke-width="0.08" font-size="5.3" textLength="5.2" lengthAdjust="spacingAndGlyphs" fill="#3a3a3a" text-anchor="end">20</text>
<line x1="413.5" y1="153.3" x2="416.5" y2="153.3" stroke="#8a8a8a" stroke-width="0.9"/>
<text x="411.2" y="155.2" font-family="Liberation Sans, sans-serif" stroke="#666" stroke-width="0.08" font-size="5.3" textLength="5.2" lengthAdjust="spacingAndGlyphs" fill="#3a3a3a" text-anchor="end">40</text>
<line x1="413.5" y1="146.3" x2="416.5" y2="146.3" stroke="#8a8a8a" stroke-width="0.9"/>
<text x="411.2" y="148.2" font-family="Liberation Sans, sans-serif" stroke="#666" stroke-width="0.08" font-size="5.3" textLength="5.2" lengthAdjust="spacingAndGlyphs" fill="#3a3a3a" text-anchor="end">60</text>
<line x1="413.5" y1="139.3" x2="416.5" y2="139.3" stroke="#8a8a8a" stroke-width="0.9"/>
<text x="411.2" y="141.2" font-family="Liberation Sans, sans-serif" stroke="#666" stroke-width="0.08" font-size="5.3" textLength="5.2" lengthAdjust="spacingAndGlyphs" fill="#3a3a3a" text-anchor="end">80</text>
<line x1="413.5" y1="132.3" x2="416.5" y2="132.3" stroke="#8a8a8a" stroke-width="0.9"/>
<text x="411.2" y="134.2" font-family="Liberation Sans, sans-serif" stroke="#666" stroke-width="0.08" font-size="5.3" textLength="7.8" lengthAdjust="spacingAndGlyphs" fill="#3a3a3a" text-anchor="end">100</text>
<rect x="422.7" y="166.40" width="115.8" height="0.90" fill="#555"/>
<rect x="422" y="167.00" width="1" height="0.30" fill="#111"/>
<rect x="423" y="166.23" width="1" height="1.07" fill="#111"/>
<rect x="423" y="165.64" width="1" height="1.66" fill="#111"/>
<rect x="424" y="165.54" width="1" height="1.76" fill="#111"/>
<rect x="424" y="165.39" width="1" height="1.91" fill="#111"/>
<rect x="425" y="164.42" width="1" height="2.88" fill="#111"/>
<rect x="425" y="164.79" width="1" height="2.51" fill="#111"/>
<rect x="426" y="164.67" width="1" height="2.63" fill="#111"/>
<rect x="426" y="164.31" width="1" height="2.99" fill="#111"/>
<rect x="427" y="164.02" width="1" height="3.28" fill="#111"/>
<rect x="427" y="162.87" width="1" height="4.43" fill="#111"/>
<rect x="428" y="163.16" width="1" height="4.14" fill="#111"/>
<rect x="428" y="163.26" width="1" height="4.04" fill="#111"/>
<rect x="429" y="162.45" width="1" height="4.85" fill="#111"/>
<rect x="429" y="160.37" width="1" height="6.93" fill="#111"/>
<rect x="430" y="162.59" width="1" height="4.71" fill="#111"/>
<rect x="430" y="162.73" width="1" height="4.57" fill="#111"/>
<rect x="431" y="162.50" width="1" height="4.80" fill="#111"/>
<rect x="431" y="162.42" width="1" height="4.88" fill="#111"/>
<rect x="432" y="161.96" width="1" height="5.34" fill="#111"/>
<rect x="432" y="161.72" width="1" height="5.58" fill="#111"/>
<rect x="433" y="162.50" width="1" height="4.80" fill="#111"/>
<rect x="433" y="162.66" width="1" height="4.64" fill="#111"/>
<rect x="434" y="162.74" width="1" height="4.56" fill="#111"/>
<rect x="434" y="162.77" width="1" height="4.53" fill="#111"/>
<rect x="435" y="163.76" width="1" height="3.54" fill="#111"/>
<rect x="435" y="163.72" width="1" height="3.58" fill="#111"/>
<rect x="436" y="163.09" width="1" height="4.21" fill="#111"/>
<rect x="436" y="163.68" width="1" height="3.62" fill="#111"/>
<rect x="437" y="163.67" width="1" height="3.63" fill="#111"/>
<rect x="437" y="163.84" width="1" height="3.46" fill="#111"/>
<rect x="438" y="164.03" width="1" height="3.27" fill="#111"/>
<rect x="438" y="164.46" width="1" height="2.84" fill="#111"/>
<rect x="439" y="164.53" width="1" height="2.77" fill="#111"/>
<rect x="439" y="164.44" width="1" height="2.86" fill="#111"/>
<rect x="440" y="164.40" width="1" height="2.90" fill="#111"/>
<rect x="440" y="164.68" width="1" height="2.62" fill="#111"/>
<rect x="441" y="164.54" width="1" height="2.76" fill="#111"/>
<rect x="441" y="165.00" width="1" height="2.30" fill="#111"/>
<rect x="442" y="165.18" width="1" height="2.12" fill="#111"/>
<rect x="442" y="164.87" width="1" height="2.43" fill="#111"/>
<rect x="443" y="164.59" width="1" height="2.71" fill="#111"/>
<rect x="443" y="164.72" width="1" height="2.58" fill="#111"/>
<rect x="444" y="164.94" width="1" height="2.36" fill="#111"/>
<rect x="444" y="165.19" width="1" height="2.11" fill="#111"/>
<rect x="445" y="165.40" width="1" height="1.90" fill="#111"/>
<rect x="445" y="165.03" width="1" height="2.27" fill="#111"/>
<rect x="446" y="165.48" width="1" height="1.82" fill="#111"/>
<rect x="446" y="165.33" width="1" height="1.97" fill="#111"/>
<rect x="447" y="165.17" width="1" height="2.13" fill="#111"/>
<rect x="447" y="165.14" width="1" height="2.16" fill="#111"/>
<rect x="448" y="165.29" width="1" height="2.01" fill="#111"/>
<rect x="448" y="165.53" width="1" height="1.77" fill="#111"/>
<rect x="449" y="165.28" width="1" height="2.02" fill="#111"/>
<rect x="449" y="165.58" width="1" height="1.72" fill="#111"/>
<rect x="450" y="165.37" width="1" height="1.93" fill="#111"/>
<rect x="450" y="165.16" width="1" height="2.14" fill="#111"/>
<rect x="451" y="165.46" width="1" height="1.84" fill="#111"/>
<rect x="451" y="165.63" width="1" height="1.67" fill="#111"/>
<rect x="452" y="165.02" width="1" height="2.28" fill="#111"/>
<rect x="452" y="165.38" width="1" height="1.92" fill="#111"/>
<rect x="453" y="165.39" width="1" height="1.91" fill="#111"/>
<rect x="453" y="165.86" width="1" height="1.44" fill="#111"/>
<rect x="454" y="165.92" width="1" height="1.38" fill="#111"/>
<rect x="454" y="165.37" width="1" height="1.93" fill="#111"/>
<rect x="455" y="165.90" width="1" height="1.40" fill="#111"/>
<rect x="455" y="165.81" width="1" height="1.49" fill="#111"/>
<rect x="456" y="165.29" width="1" height="2.01" fill="#111"/>
<rect x="456" y="165.50" width="1" height="1.80" fill="#111"/>
<rect x="457" y="165.17" width="1" height="2.13" fill="#111"/>
<rect x="457" y="165.87" width="1" height="1.43" fill="#111"/>
<rect x="458" y="165.73" width="1" height="1.57" fill="#111"/>
<rect x="458" y="165.96" width="1" height="1.34" fill="#111"/>
<rect x="459" y="165.88" width="1" height="1.42" fill="#111"/>
<rect x="459" y="165.76" width="1" height="1.54" fill="#111"/>
<rect x="460" y="165.84" width="1" height="1.46" fill="#111"/>
<rect x="460" y="165.67" width="1" height="1.63" fill="#111"/>
<rect x="461" y="165.21" width="1" height="2.09" fill="#111"/>
<rect x="461" y="165.70" width="1" height="1.60" fill="#111"/>
<rect x="462" y="165.12" width="1" height="2.18" fill="#111"/>
<rect x="462" y="165.27" width="1" height="2.03" fill="#111"/>
<rect x="463" y="165.90" width="1" height="1.40" fill="#111"/>
<rect x="463" y="165.18" width="1" height="2.12" fill="#111"/>
<rect x="464" y="165.23" width="1" height="2.07" fill="#111"/>
<rect x="464" y="165.24" width="1" height="2.06" fill="#111"/>
<rect x="465" y="166.03" width="1" height="1.27" fill="#111"/>
<rect x="465" y="165.33" width="1" height="1.97" fill="#111"/>
<rect x="466" y="165.18" width="1" height="2.12" fill="#111"/>
<rect x="466" y="166.00" width="1" height="1.30" fill="#111"/>
<rect x="467" y="165.28" width="1" height="2.02" fill="#111"/>
<rect x="467" y="166.01" width="1" height="1.29" fill="#111"/>
<rect x="468" y="165.85" width="1" height="1.45" fill="#111"/>
<rect x="468" y="166.01" width="1" height="1.29" fill="#111"/>
<rect x="469" y="166.13" width="1" height="1.17" fill="#111"/>
<rect x="469" y="165.76" width="1" height="1.54" fill="#111"/>
<rect x="470" y="165.99" width="1" height="1.31" fill="#111"/>
<rect x="470" y="165.23" width="1" height="2.07" fill="#111"/>
<rect x="471" y="165.97" width="1" height="1.33" fill="#111"/>
<rect x="471" y="166.13" width="1" height="1.17" fill="#111"/>
<rect x="472" y="166.62" width="1" height="0.68" fill="#666"/>
<rect x="472" y="166.01" width="1" height="1.29" fill="#666"/>
<rect x="473" y="166.65" width="1" height="0.65" fill="#666"/>
<rect x="473" y="166.84" width="1" height="0.46" fill="#666"/>
<rect x="474" y="165.96" width="1" height="1.34" fill="#666"/>
<rect x="474" y="166.23" width="1" height="1.07" fill="#666"/>
<rect x="475" y="166.47" width="1" height="0.83" fill="#666"/>
<rect x="475" y="166.73" width="1" height="0.57" fill="#666"/>
<rect x="476" y="166.15" width="1" height="1.15" fill="#666"/>
<rect x="476" y="166.09" width="1" height="1.21" fill="#666"/>
<rect x="477" y="166.16" width="1" height="1.14" fill="#666"/>
<rect x="477" y="166.52" width="1" height="0.78" fill="#666"/>
<rect x="478" y="166.66" width="1" height="0.64" fill="#666"/>
<rect x="478" y="166.30" width="1" height="1.00" fill="#666"/>
<rect x="479" y="166.28" width="1" height="1.02" fill="#666"/>
<rect x="479" y="166.31" width="1" height="0.99" fill="#666"/>
<rect x="480" y="166.26" width="1" height="1.04" fill="#666"/>
<rect x="480" y="166.33" width="1" height="0.97" fill="#666"/>
<rect x="481" y="166.00" width="1" height="1.30" fill="#666"/>
<rect x="481" y="166.42" width="1" height="0.88" fill="#666"/>
<rect x="482" y="166.89" width="1" height="0.41" fill="#666"/>
<rect x="482" y="166.33" width="1" height="0.97" fill="#666"/>
<rect x="483" y="166.66" width="1" height="0.64" fill="#666"/>
<rect x="483" y="166.08" width="1" height="1.22" fill="#666"/>
<rect x="484" y="166.61" width="1" height="0.69" fill="#666"/>
<rect x="484" y="166.68" width="1" height="0.62" fill="#666"/>
<rect x="485" y="166.59" width="1" height="0.71" fill="#666"/>
<rect x="485" y="166.44" width="1" height="0.86" fill="#666"/>
<rect x="486" y="166.41" width="1" height="0.89" fill="#666"/>
<rect x="486" y="166.57" width="1" height="0.73" fill="#666"/>
<rect x="487" y="166.82" width="1" height="0.48" fill="#666"/>
<rect x="487" y="166.07" width="1" height="1.23" fill="#666"/>
<rect x="488" y="166.02" width="1" height="1.28" fill="#666"/>
<rect x="488" y="166.67" width="1" height="0.63" fill="#666"/>
<rect x="489" y="166.84" width="1" height="0.46" fill="#666"/>
<rect x="489" y="166.44" width="1" height="0.86" fill="#666"/>
<rect x="490" y="166.37" width="1" height="0.93" fill="#666"/>
<rect x="490" y="166.65" width="1" height="0.65" fill="#666"/>
<rect x="491" y="166.12" width="1" height="1.18" fill="#666"/>
<rect x="491" y="166.20" width="1" height="1.10" fill="#666"/>
<rect x="492" y="166.13" width="1" height="1.17" fill="#666"/>
<rect x="492" y="166.52" width="1" height="0.78" fill="#666"/>
<rect x="493" y="166.25" width="1" height="1.05" fill="#666"/>
<rect x="493" y="166.17" width="1" height="1.13" fill="#666"/>
<rect x="494" y="166.62" width="1" height="0.68" fill="#666"/>
<rect x="494" y="166.89" width="1" height="0.41" fill="#666"/>
<rect x="495" y="166.23" width="1" height="1.07" fill="#666"/>
<rect x="495" y="166.64" width="1" height="0.66" fill="#666"/>
<rect x="496" y="166.35" width="1" height="0.95" fill="#666"/>
<rect x="496" y="166.79" width="1" height="0.51" fill="#666"/>
<rect x="497" y="166.52" width="1" height="0.78" fill="#666"/>
<rect x="497" y="166.21" width="1" height="1.09" fill="#666"/>
<rect x="498" y="166.16" width="1" height="1.14" fill="#666"/>
<rect x="498" y="165.96" width="1" height="1.34" fill="#666"/>
<rect x="499" y="166.42" width="1" height="0.88" fill="#666"/>
<rect x="499" y="166.32" width="1" height="0.98" fill="#666"/>
<rect x="500" y="166.12" width="1" height="1.18" fill="#666"/>
<rect x="500" y="166.30" width="1" height="1.00" fill="#666"/>
<rect x="501" y="166.27" width="1" height="1.03" fill="#666"/>
<rect x="501" y="166.72" width="1" height="0.58" fill="#666"/>
<rect x="502" y="166.09" width="1" height="1.21" fill="#666"/>
<rect x="502" y="166.94" width="1" height="0.36" fill="#666"/>
<rect x="503" y="166.43" width="1" height="0.87" fill="#666"/>
<rect x="503" y="166.55" width="1" height="0.75" fill="#666"/>
<rect x="504" y="166.42" width="1" height="0.88" fill="#666"/>
<rect x="504" y="166.78" width="1" height="0.52" fill="#666"/>
<rect x="505" y="166.77" width="1" height="0.53" fill="#666"/>
<rect x="505" y="166.51" width="1" height="0.79" fill="#666"/>
<rect x="506" y="166.43" width="1" height="0.87" fill="#666"/>
<rect x="506" y="166.67" width="1" height="0.63" fill="#666"/>
<rect x="507" y="166.81" width="1" height="0.49" fill="#666"/>
<rect x="507" y="166.35" width="1" height="0.95" fill="#666"/>
<rect x="508" y="166.69" width="1" height="0.61" fill="#666"/>
<rect x="508" y="166.92" width="1" height="0.38" fill="#666"/>
<rect x="509" y="166.42" width="1" height="0.88" fill="#666"/>
<rect x="509" y="166.19" width="1" height="1.11" fill="#666"/>
<rect x="510" y="166.19" width="1" height="1.11" fill="#666"/>
<rect x="510" y="166.68" width="1" height="0.62" fill="#666"/>
<rect x="511" y="166.63" width="1" height="0.67" fill="#666"/>
<rect x="511" y="166.92" width="1" height="0.38" fill="#666"/>
<rect x="512" y="166.81" width="1" height="0.49" fill="#666"/>
<rect x="512" y="166.20" width="1" height="1.10" fill="#666"/>
<rect x="513" y="166.15" width="1" height="1.15" fill="#666"/>
<rect x="513" y="166.22" width="1" height="1.08" fill="#666"/>
<rect x="514" y="166.15" width="1" height="1.15" fill="#666"/>
<rect x="514" y="166.67" width="1" height="0.63" fill="#666"/>
<rect x="515" y="166.82" width="1" height="0.48" fill="#666"/>
<rect x="515" y="166.87" width="1" height="0.43" fill="#666"/>
<rect x="516" y="166.22" width="1" height="1.08" fill="#666"/>
<rect x="516" y="166.83" width="1" height="0.47" fill="#666"/>
<rect x="517" y="166.28" width="1" height="1.02" fill="#666"/>
<rect x="517" y="166.39" width="1" height="0.91" fill="#666"/>
<rect x="518" y="166.70" width="1" height="0.60" fill="#666"/>
<rect x="518" y="166.06" width="1" height="1.24" fill="#666"/>
<rect x="519" y="166.06" width="1" height="1.24" fill="#666"/>
<rect x="519" y="166.81" width="1" height="0.49" fill="#666"/>
<rect x="520" y="166.26" width="1" height="1.04" fill="#666"/>
<rect x="520" y="166.33" width="1" height="0.97" fill="#666"/>
<rect x="521" y="166.55" width="1" height="0.75" fill="#666"/>
<rect x="521" y="166.65" width="1" height="0.65" fill="#666"/>
<rect x="522" y="165.98" width="1" height="1.32" fill="#666"/>
<rect x="522" y="166.31" width="1" height="0.99" fill="#666"/>
<rect x="523" y="166.41" width="1" height="0.89" fill="#666"/>
<rect x="523" y="166.46" width="1" height="0.84" fill="#666"/>
<rect x="524" y="166.19" width="1" height="1.11" fill="#666"/>
<rect x="524" y="166.57" width="1" height="0.73" fill="#666"/>
<rect x="525" y="166.94" width="1" height="0.36" fill="#666"/>
<rect x="525" y="166.37" width="1" height="0.93" fill="#666"/>
<rect x="526" y="166.53" width="1" height="0.77" fill="#666"/>
<rect x="526" y="166.10" width="1" height="1.20" fill="#666"/>
<rect x="527" y="166.26" width="1" height="1.04" fill="#666"/>
<rect x="527" y="166.65" width="1" height="0.65" fill="#666"/>
<rect x="528" y="166.10" width="1" height="1.20" fill="#666"/>
<rect x="528" y="166.87" width="1" height="0.43" fill="#666"/>
<rect x="529" y="166.90" width="1" height="0.40" fill="#666"/>
<rect x="529" y="166.08" width="1" height="1.22" fill="#666"/>
<rect x="530" y="166.93" width="1" height="0.37" fill="#666"/>
<rect x="530" y="166.36" width="1" height="0.94" fill="#666"/>
<rect x="531" y="166.76" width="1" height="0.54" fill="#666"/>
<rect x="531" y="166.75" width="1" height="0.55" fill="#666"/>
<rect x="532" y="166.29" width="1" height="1.01" fill="#666"/>
<rect x="532" y="166.67" width="1" height="0.63" fill="#666"/>
<rect x="533" y="166.65" width="1" height="0.65" fill="#666"/>
<rect x="533" y="166.80" width="1" height="0.50" fill="#666"/>
<rect x="534" y="166.26" width="1" height="1.04" fill="#666"/>
<rect x="534" y="166.75" width="1" height="0.55" fill="#666"/>
<rect x="535" y="166.96" width="1" height="0.34" fill="#666"/>
<rect x="535" y="166.67" width="1" height="0.63" fill="#666"/>
<rect x="536" y="166.53" width="1" height="0.77" fill="#666"/>
<rect x="536" y="166.11" width="1" height="1.19" fill="#666"/>
<rect x="537" y="166.49" width="1" height="0.81" fill="#666"/>
<rect x="537" y="166.35" width="1" height="0.95" fill="#666"/>
<rect x="429" y="158.20" width="1" height="9.10" fill="#111"/>
<rect x="432" y="161.00" width="1" height="6.30" fill="#111"/>
<line x1="421.0" y1="168.7" x2="536.8" y2="168.7" stroke="#8a8a8a" stroke-width="1.1"/>
<line x1="421.0" y1="168.7" x2="421.0" y2="170.9" stroke="#8a8a8a" stroke-width="0.9"/>
<text x="421.0" y="179.4" font-family="Liberation Sans, sans-serif" stroke="#666" stroke-width="0.08" font-size="5.3" textLength="9.2" lengthAdjust="spacingAndGlyphs" fill="#3a3a3a" text-anchor="middle">0.00</text>
<line x1="449.9" y1="168.7" x2="449.9" y2="170.9" stroke="#8a8a8a" stroke-width="0.9"/>
<text x="449.9" y="179.4" font-family="Liberation Sans, sans-serif" stroke="#666" stroke-width="0.08" font-size="5.3" textLength="9.2" lengthAdjust="spacingAndGlyphs" fill="#3a3a3a" text-anchor="middle">0.05</text>
<line x1="478.9" y1="168.7" x2="478.9" y2="170.9" stroke="#8a8a8a" stroke-width="0.9"/>
<text x="478.9" y="179.4" font-family="Liberation Sans, sans-serif" stroke="#666" stroke-width="0.08" font-size="5.3" textLength="9.2" lengthAdjust="spacingAndGlyphs" fill="#3a3a3a" text-anchor="middle">0.10</text>
<line x1="507.8" y1="168.7" x2="507.8" y2="170.9" stroke="#8a8a8a" stroke-width="0.9"/>
<text x="507.8" y="179.4" font-family="Liberation Sans, sans-serif" stroke="#666" stroke-width="0.08" font-size="5.3" textLength="9.2" lengthAdjust="spacingAndGlyphs" fill="#3a3a3a" text-anchor="middle">0.15</text>
<line x1="536.8" y1="168.7" x2="536.8" y2="170.9" stroke="#8a8a8a" stroke-width="0.9"/>
<text x="536.8" y="179.4" font-family="Liberation Sans, sans-serif" stroke="#666" stroke-width="0.08" font-size="5.3" textLength="9.2" lengthAdjust="spacingAndGlyphs" fill="#3a3a3a" text-anchor="middle">0.20</text>
<text x="480.2" y="190.2" font-family="Liberation Serif, serif" font-weight="bold" stroke="#111" stroke-width="0.3" font-size="6.5" textLength="54.5" lengthAdjust="spacingAndGlyphs" fill="#222" text-anchor="middle">Predicted Probability</text>
<text x="169.3" y="221.7" font-family="Liberation Serif, serif" font-weight="bold" stroke="#111" stroke-width="0.3" font-size="6.2" textLength="89.4" lengthAdjust="spacingAndGlyphs" fill="#111" text-anchor="middle">Calibration plot of SSE prediction</text>
<text x="169.3" y="229.5" font-family="Liberation Serif, serif" font-weight="bold" stroke="#111" stroke-width="0.3" font-size="6.2" textLength="61.5" lengthAdjust="spacingAndGlyphs" fill="#111" text-anchor="middle">CHA<tspan font-size="4.2" dy="1.2">2</tspan><tspan dy="-1.2">DS</tspan><tspan font-size="4.2" dy="1.2">2</tspan><tspan dy="-1.2">-VASc (OAC)</tspan></text>
<text transform="translate(85.3,285.4) rotate(-90)" x="0" y="2" font-family="Liberation Serif, serif" font-weight="bold" stroke="#111" stroke-width="0.3" font-size="6.5" textLength="55" lengthAdjust="spacingAndGlyphs" fill="#222" text-anchor="middle">Observed Probability</text>
<rect x="104.2" y="234.3" width="124.3" height="96.2" fill="none" stroke="#8a8a8a" stroke-width="1.1"/>
<line x1="108.8" y1="330.5" x2="108.8" y2="333.1" stroke="#8a8a8a" stroke-width="0.9"/>
<text x="108.8" y="341.8" font-family="Liberation Sans, sans-serif" stroke="#666" stroke-width="0.08" font-size="5.4" textLength="9.4" lengthAdjust="spacingAndGlyphs" fill="#3a3a3a" text-anchor="middle">0.00</text>
<line x1="101.6" y1="326.9" x2="104.2" y2="326.9" stroke="#8a8a8a" stroke-width="0.9"/>
<text x="98.8" y="329.3" font-family="Liberation Sans, sans-serif" stroke="#666" stroke-width="0.08" font-size="5.4" textLength="9.5" lengthAdjust="spacingAndGlyphs" fill="#3a3a3a" text-anchor="end">0.00</text>
<line x1="137.6" y1="330.5" x2="137.6" y2="333.1" stroke="#8a8a8a" stroke-width="0.9"/>
<text x="137.6" y="341.8" font-family="Liberation Sans, sans-serif" stroke="#666" stroke-width="0.08" font-size="5.4" textLength="9.4" lengthAdjust="spacingAndGlyphs" fill="#3a3a3a" text-anchor="middle">0.05</text>
<line x1="101.6" y1="304.7" x2="104.2" y2="304.7" stroke="#8a8a8a" stroke-width="0.9"/>
<text x="98.8" y="307.1" font-family="Liberation Sans, sans-serif" stroke="#666" stroke-width="0.08" font-size="5.4" textLength="9.5" lengthAdjust="spacingAndGlyphs" fill="#3a3a3a" text-anchor="end">0.05</text>
<line x1="166.4" y1="330.5" x2="166.4" y2="333.1" stroke="#8a8a8a" stroke-width="0.9"/>
<text x="166.4" y="341.8" font-family="Liberation Sans, sans-serif" stroke="#666" stroke-width="0.08" font-size="5.4" textLength="9.4" lengthAdjust="spacingAndGlyphs" fill="#3a3a3a" text-anchor="middle">0.10</text>
<line x1="101.6" y1="282.4" x2="104.2" y2="282.4" stroke="#8a8a8a" stroke-width="0.9"/>
<text x="98.8" y="284.8" font-family="Liberation Sans, sans-serif" stroke="#666" stroke-width="0.08" font-size="5.4" textLength="9.5" lengthAdjust="spacingAndGlyphs" fill="#3a3a3a" text-anchor="end">0.10</text>
<line x1="195.1" y1="330.5" x2="195.1" y2="333.1" stroke="#8a8a8a" stroke-width="0.9"/>
<text x="195.1" y="341.8" font-family="Liberation Sans, sans-serif" stroke="#666" stroke-width="0.08" font-size="5.4" textLength="9.4" lengthAdjust="spacingAndGlyphs" fill="#3a3a3a" text-anchor="middle">0.15</text>
<line x1="101.6" y1="260.1" x2="104.2" y2="260.1" stroke="#8a8a8a" stroke-width="0.9"/>
<text x="98.8" y="262.5" font-family="Liberation Sans, sans-serif" stroke="#666" stroke-width="0.08" font-size="5.4" textLength="9.5" lengthAdjust="spacingAndGlyphs" fill="#3a3a3a" text-anchor="end">0.15</text>
<line x1="223.9" y1="330.5" x2="223.9" y2="333.1" stroke="#8a8a8a" stroke-width="0.9"/>
<text x="223.9" y="341.8" font-family="Liberation Sans, sans-serif" stroke="#666" stroke-width="0.08" font-size="5.4" textLength="9.4" lengthAdjust="spacingAndGlyphs" fill="#3a3a3a" text-anchor="middle">0.20</text>
<line x1="101.6" y1="237.9" x2="104.2" y2="237.9" stroke="#8a8a8a" stroke-width="0.9"/>
<text x="98.8" y="240.3" font-family="Liberation Sans, sans-serif" stroke="#666" stroke-width="0.08" font-size="5.4" textLength="9.5" lengthAdjust="spacingAndGlyphs" fill="#3a3a3a" text-anchor="end">0.20</text>
<line x1="104.2" y1="330.5" x2="228.5" y2="234.3" stroke="#8466a2" stroke-width="1.15"/>
<line x1="104.2" y1="330.5" x2="228.5" y2="247.4" stroke="#7d7d7d" stroke-width="1.1"/>
<line x1="116.2" y1="310.2" x2="116.2" y2="325.1" stroke="#d2a6ae" stroke-width="1.2"/>
<rect x="115.3" y="319.1" width="1.8" height="1.8" fill="#c4304a"/>
<line x1="119.3" y1="314.9" x2="119.3" y2="326.4" stroke="#d2a6ae" stroke-width="1.2"/>
<rect x="118.4" y="321.7" width="1.8" height="1.8" fill="#c4304a"/>
<line x1="122.6" y1="307.1" x2="122.6" y2="323.9" stroke="#d2a6ae" stroke-width="1.2"/>
<rect x="121.7" y="316.5" width="1.8" height="1.8" fill="#c4304a"/>
<line x1="125.2" y1="290.4" x2="125.2" y2="317.4" stroke="#d2a6ae" stroke-width="1.2"/>
<rect x="124.3" y="306.2" width="1.8" height="1.8" fill="#c4304a"/>
<line x1="128.3" y1="302.8" x2="128.3" y2="320.0" stroke="#d2a6ae" stroke-width="1.2"/>
<rect x="127.4" y="311.4" width="1.8" height="1.8" fill="#c4304a"/>
<line x1="133.4" y1="303.3" x2="133.4" y2="323.9" stroke="#d2a6ae" stroke-width="1.2"/>
<rect x="132.5" y="314.7" width="1.8" height="1.8" fill="#c4304a"/>
<line x1="136.8" y1="299.9" x2="136.8" y2="318.7" stroke="#d2a6ae" stroke-width="1.2"/>
<rect x="135.9" y="309.6" width="1.8" height="1.8" fill="#c4304a"/>
<line x1="145.0" y1="303.3" x2="145.0" y2="323.1" stroke="#d2a6ae" stroke-width="1.2"/>
<rect x="144.1" y="313.2" width="1.8" height="1.8" fill="#c4304a"/>
<line x1="151.9" y1="273.7" x2="151.9" y2="303.8" stroke="#d2a6ae" stroke-width="1.2"/>
<rect x="151.0" y="290.0" width="1.8" height="1.8" fill="#c4304a"/>
<line x1="169.9" y1="265.5" x2="169.9" y2="297.4" stroke="#d2a6ae" stroke-width="1.2"/>
<rect x="169.0" y="282.6" width="1.8" height="1.8" fill="#c4304a"/>
<text x="114.5" y="248.2" font-family="Liberation Serif, serif" font-weight="bold" stroke="#111" stroke-width="0.3" font-size="6.2" textLength="45" lengthAdjust="spacingAndGlyphs" fill="#111">R<tspan font-size="3.8" dy="-2">2</tspan><tspan dy="2"> Linear = 0.776</tspan></text>
<text x="114.5" y="255.5" font-family="Liberation Serif, serif" font-weight="bold" stroke="#111" stroke-width="0.3" font-size="6.2" textLength="55.7" lengthAdjust="spacingAndGlyphs" fill="#111">y = 0.000493 + 0.83*x</text>
<line x1="104.1" y1="344.1" x2="104.1" y2="378.9" stroke="#8a8a8a" stroke-width="0.9"/>
<line x1="101.1" y1="378.7" x2="104.1" y2="378.7" stroke="#8a8a8a" stroke-width="0.9"/>
<text x="98.8" y="380.6" font-family="Liberation Sans, sans-serif" stroke="#666" stroke-width="0.08" font-size="5.3" textLength="2.6" lengthAdjust="spacingAndGlyphs" fill="#3a3a3a" text-anchor="end">0</text>
<line x1="101.1" y1="370.1" x2="104.1" y2="370.1" stroke="#8a8a8a" stroke-width="0.9"/>
<text x="98.8" y="372.0" font-family="Liberation Sans, sans-serif" stroke="#666" stroke-width="0.08" font-size="5.3" textLength="5.2" lengthAdjust="spacingAndGlyphs" fill="#3a3a3a" text-anchor="end">50</text>
<line x1="101.1" y1="361.4" x2="104.1" y2="361.4" stroke="#8a8a8a" stroke-width="0.9"/>
<text x="98.8" y="363.3" font-family="Liberation Sans, sans-serif" stroke="#666" stroke-width="0.08" font-size="5.3" textLength="7.8" lengthAdjust="spacingAndGlyphs" fill="#3a3a3a" text-anchor="end">100</text>
<line x1="101.1" y1="352.8" x2="104.1" y2="352.8" stroke="#8a8a8a" stroke-width="0.9"/>
<text x="98.8" y="354.7" font-family="Liberation Sans, sans-serif" stroke="#666" stroke-width="0.08" font-size="5.3" textLength="7.8" lengthAdjust="spacingAndGlyphs" fill="#3a3a3a" text-anchor="end">150</text>
<line x1="101.1" y1="344.1" x2="104.1" y2="344.1" stroke="#8a8a8a" stroke-width="0.9"/>
<text x="98.8" y="346.1" font-family="Liberation Sans, sans-serif" stroke="#666" stroke-width="0.08" font-size="5.3" textLength="7.8" lengthAdjust="spacingAndGlyphs" fill="#3a3a3a" text-anchor="end">200</text>
<rect x="113.0" y="377.70" width="93.5" height="1.00" fill="#555"/>
<rect x="113" y="368.00" width="1" height="10.70" fill="#aaa"/>
<rect x="114" y="368.00" width="1" height="10.70" fill="#aaa"/>
<rect x="114" y="371.60" width="1" height="7.10" fill="#888"/>
<rect x="115" y="371.60" width="1" height="7.10" fill="#777"/>
<rect x="115" y="352.00" width="1" height="26.70" fill="#999"/>
<rect x="116" y="370.30" width="1" height="8.40" fill="#444"/>
<rect x="117" y="370.30" width="1" height="8.40" fill="#444"/>
<rect x="117" y="370.30" width="1" height="8.40" fill="#444"/>
<rect x="118" y="369.80" width="1" height="8.90" fill="#333"/>
<rect x="119" y="369.80" width="1" height="8.90" fill="#333"/>
<rect x="119" y="361.90" width="1" height="16.80" fill="#999"/>
<rect x="120" y="370.70" width="1" height="8.00" fill="#333"/>
<rect x="120" y="370.70" width="1" height="8.00" fill="#333"/>
<rect x="122" y="369.00" width="1" height="9.70" fill="#333"/>
<rect x="123" y="351.70" width="1" height="27.00" fill="#999"/>
<rect x="123" y="370.00" width="1" height="8.70" fill="#333"/>
<rect x="125" y="367.60" width="1" height="11.10" fill="#aaa"/>
<rect x="125" y="368.00" width="1" height="10.70" fill="#aaa"/>
<rect x="126" y="369.00" width="1" height="9.70" fill="#999"/>
<rect x="127" y="368.50" width="1" height="10.20" fill="#aaa"/>
<rect x="127" y="369.00" width="1" height="9.70" fill="#aaa"/>
<rect x="128" y="369.40" width="1" height="9.30" fill="#888"/>
<rect x="129" y="372.50" width="1" height="6.20" fill="#666"/>
<rect x="131" y="358.80" width="1" height="19.90" fill="#333"/>
<rect x="132" y="373.40" width="1" height="5.30" fill="#333"/>
<rect x="132" y="374.00" width="1" height="4.70" fill="#444"/>
<rect x="135" y="370.00" width="1" height="8.70" fill="#888"/>
<rect x="136" y="369.80" width="1" height="8.90" fill="#888"/>
<rect x="136" y="371.00" width="1" height="7.70" fill="#888"/>
<rect x="137" y="372.50" width="1" height="6.20" fill="#888"/>
<rect x="138" y="370.50" width="1" height="8.20" fill="#888"/>
<rect x="139" y="372.00" width="1" height="6.70" fill="#888"/>
<rect x="143" y="357.00" width="1" height="21.70" fill="#888"/>
<rect x="144" y="376.00" width="1" height="2.70" fill="#333"/>
<rect x="145" y="376.00" width="1" height="2.70" fill="#333"/>
<rect x="146" y="371.20" width="1" height="7.50" fill="#777"/>
<rect x="147" y="373.50" width="1" height="5.20" fill="#999"/>
<rect x="148" y="375.00" width="1" height="3.70" fill="#999"/>
<rect x="151" y="376.00" width="1" height="2.70" fill="#888"/>
<rect x="153" y="372.50" width="1" height="6.20" fill="#999"/>
<rect x="155" y="370.00" width="1" height="8.70" fill="#333"/>
<rect x="157" y="376.40" width="1" height="2.30" fill="#333"/>
<rect x="159" y="376.90" width="1" height="1.80" fill="#444"/>
<rect x="163" y="376.90" width="1" height="1.80" fill="#444"/>
<rect x="165" y="371.20" width="1" height="7.50" fill="#444"/>
<rect x="166" y="376.40" width="1" height="2.30" fill="#444"/>
<rect x="168" y="376.40" width="1" height="2.30" fill="#444"/>
<rect x="125" y="374.50" width="1" height="4.20" fill="#333"/>
<rect x="126" y="371.60" width="1" height="7.10" fill="#333"/>
<rect x="127" y="375.00" width="1" height="3.70" fill="#333"/>
<rect x="116" y="373.00" width="1" height="5.70" fill="#222"/>
<rect x="117" y="372.00" width="1" height="6.70" fill="#222"/>
<rect x="120" y="372.50" width="1" height="6.20" fill="#222"/>
<rect x="135" y="376.00" width="1" height="2.70" fill="#333"/>
<rect x="137" y="375.50" width="1" height="3.20" fill="#333"/>
<rect x="139" y="376.00" width="1" height="2.70" fill="#333"/>
<rect x="131" y="373.40" width="1" height="5.30" fill="#222"/>
<rect x="132" y="373.40" width="1" height="5.30" fill="#222"/>
<rect x="181" y="377.00" width="1" height="1.70" fill="#444"/>
<rect x="182" y="377.30" width="1" height="1.40" fill="#444"/>
<rect x="170" y="377.84" width="1" height="0.86" fill="#555"/>
<rect x="172" y="377.45" width="1" height="1.25" fill="#555"/>
<rect x="174" y="377.80" width="1" height="0.90" fill="#555"/>
<rect x="176" y="378.01" width="1" height="0.69" fill="#555"/>
<rect x="178" y="377.40" width="1" height="1.30" fill="#555"/>
<rect x="180" y="377.41" width="1" height="1.29" fill="#555"/>
<rect x="182" y="377.88" width="1" height="0.82" fill="#555"/>
<rect x="184" y="377.74" width="1" height="0.96" fill="#555"/>
<rect x="186" y="377.67" width="1" height="1.03" fill="#555"/>
<rect x="188" y="377.44" width="1" height="1.26" fill="#555"/>
<rect x="190" y="377.87" width="1" height="0.83" fill="#555"/>
<rect x="192" y="377.73" width="1" height="0.97" fill="#555"/>
<rect x="194" y="377.59" width="1" height="1.11" fill="#555"/>
<rect x="196" y="377.61" width="1" height="1.09" fill="#555"/>
<rect x="198" y="377.33" width="1" height="1.37" fill="#555"/>
<rect x="200" y="377.50" width="1" height="1.20" fill="#555"/>
<rect x="202" y="377.58" width="1" height="1.12" fill="#555"/>
<rect x="204" y="377.62" width="1" height="1.08" fill="#555"/>
<rect x="206" y="377.92" width="1" height="0.78" fill="#555"/>
<line x1="108.2" y1="380.1" x2="224.2" y2="380.1" stroke="#8a8a8a" stroke-width="1.1"/>
<line x1="108.2" y1="380.1" x2="108.2" y2="382.3" stroke="#8a8a8a" stroke-width="0.9"/>
<text x="108.2" y="390.8" font-family="Liberation Sans, sans-serif" stroke="#666" stroke-width="0.08" font-size="5.3" textLength="9.2" lengthAdjust="spacingAndGlyphs" fill="#3a3a3a" text-anchor="middle">0.00</text>
<line x1="137.2" y1="380.1" x2="137.2" y2="382.3" stroke="#8a8a8a" stroke-width="0.9"/>
<text x="137.2" y="390.8" font-family="Liberation Sans, sans-serif" stroke="#666" stroke-width="0.08" font-size="5.3" textLength="9.2" lengthAdjust="spacingAndGlyphs" fill="#3a3a3a" text-anchor="middle">0.05</text>
<line x1="166.2" y1="380.1" x2="166.2" y2="382.3" stroke="#8a8a8a" stroke-width="0.9"/>
<text x="166.2" y="390.8" font-family="Liberation Sans, sans-serif" stroke="#666" stroke-width="0.08" font-size="5.3" textLength="9.2" lengthAdjust="spacingAndGlyphs" fill="#3a3a3a" text-anchor="middle">0.10</text>
<line x1="195.2" y1="380.1" x2="195.2" y2="382.3" stroke="#8a8a8a" stroke-width="0.9"/>
<text x="195.2" y="390.8" font-family="Liberation Sans, sans-serif" stroke="#666" stroke-width="0.08" font-size="5.3" textLength="9.2" lengthAdjust="spacingAndGlyphs" fill="#3a3a3a" text-anchor="middle">0.15</text>
<line x1="224.2" y1="380.1" x2="224.2" y2="382.3" stroke="#8a8a8a" stroke-width="0.9"/>
<text x="224.2" y="390.8" font-family="Liberation Sans, sans-serif" stroke="#666" stroke-width="0.08" font-size="5.3" textLength="9.2" lengthAdjust="spacingAndGlyphs" fill="#3a3a3a" text-anchor="middle">0.20</text>
<text x="166.3" y="402.2" font-family="Liberation Serif, serif" font-weight="bold" stroke="#111" stroke-width="0.3" font-size="6.5" textLength="54.5" lengthAdjust="spacingAndGlyphs" fill="#222" text-anchor="middle">Predicted Probability</text>
<text x="326.4" y="221.7" font-family="Liberation Serif, serif" font-weight="bold" stroke="#111" stroke-width="0.3" font-size="6.2" textLength="89.4" lengthAdjust="spacingAndGlyphs" fill="#111" text-anchor="middle">Calibration plot of SSE prediction</text>
<text x="326.4" y="229.5" font-family="Liberation Serif, serif" font-weight="bold" stroke="#111" stroke-width="0.3" font-size="6.2" textLength="47.6" lengthAdjust="spacingAndGlyphs" fill="#111" text-anchor="middle">COOL-AF (OAC)</text>
<text transform="translate(242.1,285.4) rotate(-90)" x="0" y="2" font-family="Liberation Serif, serif" font-weight="bold" stroke="#111" stroke-width="0.3" font-size="6.5" textLength="55" lengthAdjust="spacingAndGlyphs" fill="#222" text-anchor="middle">Observed Probability</text>
<rect x="261.0" y="234.3" width="124.7" height="96.2" fill="none" stroke="#8a8a8a" stroke-width="1.1"/>
<line x1="265.6" y1="330.5" x2="265.6" y2="333.1" stroke="#8a8a8a" stroke-width="0.9"/>
<text x="265.6" y="341.8" font-family="Liberation Sans, sans-serif" stroke="#666" stroke-width="0.08" font-size="5.4" textLength="9.4" lengthAdjust="spacingAndGlyphs" fill="#3a3a3a" text-anchor="middle">0.00</text>
<line x1="258.4" y1="326.9" x2="261.0" y2="326.9" stroke="#8a8a8a" stroke-width="0.9"/>
<text x="255.6" y="329.3" font-family="Liberation Sans, sans-serif" stroke="#666" stroke-width="0.08" font-size="5.4" textLength="9.5" lengthAdjust="spacingAndGlyphs" fill="#3a3a3a" text-anchor="end">0.00</text>
<line x1="294.5" y1="330.5" x2="294.5" y2="333.1" stroke="#8a8a8a" stroke-width="0.9"/>
<text x="294.5" y="341.8" font-family="Liberation Sans, sans-serif" stroke="#666" stroke-width="0.08" font-size="5.4" textLength="9.4" lengthAdjust="spacingAndGlyphs" fill="#3a3a3a" text-anchor="middle">0.05</text>
<line x1="258.4" y1="304.7" x2="261.0" y2="304.7" stroke="#8a8a8a" stroke-width="0.9"/>
<text x="255.6" y="307.1" font-family="Liberation Sans, sans-serif" stroke="#666" stroke-width="0.08" font-size="5.4" textLength="9.5" lengthAdjust="spacingAndGlyphs" fill="#3a3a3a" text-anchor="end">0.05</text>
<line x1="323.4" y1="330.5" x2="323.4" y2="333.1" stroke="#8a8a8a" stroke-width="0.9"/>
<text x="323.4" y="341.8" font-family="Liberation Sans, sans-serif" stroke="#666" stroke-width="0.08" font-size="5.4" textLength="9.4" lengthAdjust="spacingAndGlyphs" fill="#3a3a3a" text-anchor="middle">0.10</text>
<line x1="258.4" y1="282.4" x2="261.0" y2="282.4" stroke="#8a8a8a" stroke-width="0.9"/>
<text x="255.6" y="284.8" font-family="Liberation Sans, sans-serif" stroke="#666" stroke-width="0.08" font-size="5.4" textLength="9.5" lengthAdjust="spacingAndGlyphs" fill="#3a3a3a" text-anchor="end">0.10</text>
<line x1="352.2" y1="330.5" x2="352.2" y2="333.1" stroke="#8a8a8a" stroke-width="0.9"/>
<text x="352.2" y="341.8" font-family="Liberation Sans, sans-serif" stroke="#666" stroke-width="0.08" font-size="5.4" textLength="9.4" lengthAdjust="spacingAndGlyphs" fill="#3a3a3a" text-anchor="middle">0.15</text>
<line x1="258.4" y1="260.1" x2="261.0" y2="260.1" stroke="#8a8a8a" stroke-width="0.9"/>
<text x="255.6" y="262.5" font-family="Liberation Sans, sans-serif" stroke="#666" stroke-width="0.08" font-size="5.4" textLength="9.5" lengthAdjust="spacingAndGlyphs" fill="#3a3a3a" text-anchor="end">0.15</text>
<line x1="381.1" y1="330.5" x2="381.1" y2="333.1" stroke="#8a8a8a" stroke-width="0.9"/>
<text x="381.1" y="341.8" font-family="Liberation Sans, sans-serif" stroke="#666" stroke-width="0.08" font-size="5.4" textLength="9.4" lengthAdjust="spacingAndGlyphs" fill="#3a3a3a" text-anchor="middle">0.20</text>
<line x1="258.4" y1="237.9" x2="261.0" y2="237.9" stroke="#8a8a8a" stroke-width="0.9"/>
<text x="255.6" y="240.3" font-family="Liberation Sans, sans-serif" stroke="#666" stroke-width="0.08" font-size="5.4" textLength="9.5" lengthAdjust="spacingAndGlyphs" fill="#3a3a3a" text-anchor="end">0.20</text>
<line x1="261.0" y1="330.5" x2="385.7" y2="234.3" stroke="#8466a2" stroke-width="1.15"/>
<line x1="261.0" y1="330.5" x2="385.7" y2="255.0" stroke="#7d7d7d" stroke-width="1.1"/>
<line x1="271.1" y1="320.0" x2="271.1" y2="328.2" stroke="#d2a6ae" stroke-width="1.2"/>
<rect x="270.2" y="325.5" width="1.8" height="1.8" fill="#c4304a"/>
<line x1="274.5" y1="308.4" x2="274.5" y2="325.1" stroke="#d2a6ae" stroke-width="1.2"/>
<rect x="273.6" y="317.3" width="1.8" height="1.8" fill="#c4304a"/>
<line x1="277.1" y1="310.2" x2="277.1" y2="325.1" stroke="#d2a6ae" stroke-width="1.2"/>
<rect x="276.2" y="318.3" width="1.8" height="1.8" fill="#c4304a"/>
<line x1="279.6" y1="303.3" x2="279.6" y2="321.3" stroke="#d2a6ae" stroke-width="1.2"/>
<rect x="278.7" y="313.4" width="1.8" height="1.8" fill="#c4304a"/>
<line x1="283.2" y1="305.1" x2="283.2" y2="322.1" stroke="#d2a6ae" stroke-width="1.2"/>
<rect x="282.3" y="314.5" width="1.8" height="1.8" fill="#c4304a"/>
<line x1="287.9" y1="295.1" x2="287.9" y2="317.4" stroke="#d2a6ae" stroke-width="1.2"/>
<rect x="287.0" y="306.8" width="1.8" height="1.8" fill="#c4304a"/>
<line x1="293.8" y1="299.9" x2="293.8" y2="319.5" stroke="#d2a6ae" stroke-width="1.2"/>
<rect x="292.9" y="310.9" width="1.8" height="1.8" fill="#c4304a"/>
<line x1="300.7" y1="299.9" x2="300.7" y2="320.0" stroke="#d2a6ae" stroke-width="1.2"/>
<rect x="299.8" y="310.9" width="1.8" height="1.8" fill="#c4304a"/>
<line x1="310.5" y1="274.2" x2="310.5" y2="303.8" stroke="#d2a6ae" stroke-width="1.2"/>
<rect x="309.6" y="290.3" width="1.8" height="1.8" fill="#c4304a"/>
<line x1="340.8" y1="264.7" x2="340.8" y2="296.9" stroke="#d2a6ae" stroke-width="1.2"/>
<rect x="339.9" y="281.8" width="1.8" height="1.8" fill="#c4304a"/>
<text x="276.5" y="250.8" font-family="Liberation Serif, serif" font-weight="bold" stroke="#111" stroke-width="0.3" font-size="6.2" textLength="45.1" lengthAdjust="spacingAndGlyphs" fill="#111">R<tspan font-size="3.8" dy="-2">2</tspan><tspan dy="2"> Linear = 0.687</tspan></text>
<text x="276.5" y="258.6" font-family="Liberation Serif, serif" font-weight="bold" stroke="#111" stroke-width="0.3" font-size="6.2" textLength="53.1" lengthAdjust="spacingAndGlyphs" fill="#111">y = 0.00283 + 0.78*x</text>
<line x1="260.6" y1="344.6" x2="260.6" y2="379.0" stroke="#8a8a8a" stroke-width="0.9"/>
<line x1="257.6" y1="378.8" x2="260.6" y2="378.8" stroke="#8a8a8a" stroke-width="0.9"/>
<text x="255.3" y="380.8" font-family="Liberation Sans, sans-serif" stroke="#666" stroke-width="0.08" font-size="5.3" textLength="2.6" lengthAdjust="spacingAndGlyphs" fill="#3a3a3a" text-anchor="end">0</text>
<line x1="257.6" y1="370.2" x2="260.6" y2="370.2" stroke="#8a8a8a" stroke-width="0.9"/>
<text x="255.3" y="372.2" font-family="Liberation Sans, sans-serif" stroke="#666" stroke-width="0.08" font-size="5.3" textLength="5.2" lengthAdjust="spacingAndGlyphs" fill="#3a3a3a" text-anchor="end">50</text>
<line x1="257.6" y1="361.7" x2="260.6" y2="361.7" stroke="#8a8a8a" stroke-width="0.9"/>
<text x="255.3" y="363.7" font-family="Liberation Sans, sans-serif" stroke="#666" stroke-width="0.08" font-size="5.3" textLength="7.8" lengthAdjust="spacingAndGlyphs" fill="#3a3a3a" text-anchor="end">100</text>
<line x1="257.6" y1="353.2" x2="260.6" y2="353.2" stroke="#8a8a8a" stroke-width="0.9"/>
<text x="255.3" y="355.1" font-family="Liberation Sans, sans-serif" stroke="#666" stroke-width="0.08" font-size="5.3" textLength="7.8" lengthAdjust="spacingAndGlyphs" fill="#3a3a3a" text-anchor="end">150</text>
<line x1="257.6" y1="344.6" x2="260.6" y2="344.6" stroke="#8a8a8a" stroke-width="0.9"/>
<text x="255.3" y="346.6" font-family="Liberation Sans, sans-serif" stroke="#666" stroke-width="0.08" font-size="5.3" textLength="7.8" lengthAdjust="spacingAndGlyphs" fill="#3a3a3a" text-anchor="end">200</text>
<rect x="267.6" y="377.70" width="90.4" height="1.10" fill="#444"/>
<rect x="268" y="377.23" width="1" height="1.57" fill="#5a5a5a"/>
<rect x="268" y="376.37" width="1" height="2.43" fill="#5a5a5a"/>
<rect x="269" y="374.03" width="1" height="4.77" fill="#5a5a5a"/>
<rect x="269" y="373.47" width="1" height="5.33" fill="#5a5a5a"/>
<rect x="270" y="370.72" width="1" height="8.08" fill="#5a5a5a"/>
<rect x="270" y="366.44" width="1" height="12.36" fill="#5a5a5a"/>
<rect x="271" y="366.33" width="1" height="12.47" fill="#5a5a5a"/>
<rect x="271" y="365.47" width="1" height="13.33" fill="#5a5a5a"/>
<rect x="272" y="362.82" width="1" height="15.98" fill="#5a5a5a"/>
<rect x="272" y="361.16" width="1" height="17.64" fill="#5a5a5a"/>
<rect x="273" y="360.00" width="1" height="18.80" fill="#5a5a5a"/>
<rect x="273" y="357.69" width="1" height="21.11" fill="#5a5a5a"/>
<rect x="274" y="359.40" width="1" height="19.40" fill="#5a5a5a"/>
<rect x="274" y="361.90" width="1" height="16.90" fill="#5a5a5a"/>
<rect x="275" y="364.01" width="1" height="14.79" fill="#5a5a5a"/>
<rect x="275" y="364.98" width="1" height="13.82" fill="#5a5a5a"/>
<rect x="276" y="367.34" width="1" height="11.46" fill="#5a5a5a"/>
<rect x="276" y="369.53" width="1" height="9.27" fill="#5a5a5a"/>
<rect x="277" y="372.62" width="1" height="6.18" fill="#5a5a5a"/>
<rect x="277" y="374.48" width="1" height="4.32" fill="#5a5a5a"/>
<rect x="278" y="374.54" width="1" height="4.26" fill="#5a5a5a"/>
<rect x="278" y="373.75" width="1" height="5.05" fill="#5a5a5a"/>
<rect x="279" y="373.19" width="1" height="5.61" fill="#5a5a5a"/>
<rect x="279" y="371.57" width="1" height="7.23" fill="#5a5a5a"/>
<rect x="280" y="373.69" width="1" height="5.11" fill="#5a5a5a"/>
<rect x="280" y="374.36" width="1" height="4.44" fill="#5a5a5a"/>
<rect x="281" y="374.57" width="1" height="4.23" fill="#5a5a5a"/>
<rect x="281" y="374.03" width="1" height="4.77" fill="#5a5a5a"/>
<rect x="282" y="373.96" width="1" height="4.84" fill="#5a5a5a"/>
<rect x="282" y="373.62" width="1" height="5.18" fill="#5a5a5a"/>
<rect x="283" y="373.31" width="1" height="5.49" fill="#5a5a5a"/>
<rect x="283" y="373.57" width="1" height="5.23" fill="#5a5a5a"/>
<rect x="284" y="373.22" width="1" height="5.58" fill="#5a5a5a"/>
<rect x="284" y="372.76" width="1" height="6.04" fill="#5a5a5a"/>
<rect x="285" y="373.43" width="1" height="5.37" fill="#5a5a5a"/>
<rect x="285" y="372.98" width="1" height="5.82" fill="#5a5a5a"/>
<rect x="286" y="372.57" width="1" height="6.23" fill="#5a5a5a"/>
<rect x="286" y="372.42" width="1" height="6.38" fill="#5a5a5a"/>
<rect x="287" y="372.30" width="1" height="6.50" fill="#5a5a5a"/>
<rect x="287" y="373.97" width="1" height="4.83" fill="#5a5a5a"/>
<rect x="288" y="373.71" width="1" height="5.09" fill="#5a5a5a"/>
<rect x="288" y="373.15" width="1" height="5.65" fill="#5a5a5a"/>
<rect x="289" y="372.84" width="1" height="5.96" fill="#5a5a5a"/>
<rect x="289" y="372.62" width="1" height="6.18" fill="#5a5a5a"/>
<rect x="290" y="372.47" width="1" height="6.33" fill="#5a5a5a"/>
<rect x="290" y="373.04" width="1" height="5.76" fill="#5a5a5a"/>
<rect x="291" y="372.61" width="1" height="6.19" fill="#5a5a5a"/>
<rect x="291" y="373.30" width="1" height="5.50" fill="#5a5a5a"/>
<rect x="292" y="373.61" width="1" height="5.19" fill="#5a5a5a"/>
<rect x="292" y="373.50" width="1" height="5.30" fill="#5a5a5a"/>
<rect x="293" y="373.77" width="1" height="5.03" fill="#5a5a5a"/>
<rect x="293" y="374.40" width="1" height="4.40" fill="#5a5a5a"/>
<rect x="294" y="374.56" width="1" height="4.24" fill="#5a5a5a"/>
<rect x="294" y="373.89" width="1" height="4.91" fill="#5a5a5a"/>
<rect x="295" y="374.92" width="1" height="3.88" fill="#5a5a5a"/>
<rect x="295" y="374.95" width="1" height="3.85" fill="#5a5a5a"/>
<rect x="296" y="374.66" width="1" height="4.14" fill="#5a5a5a"/>
<rect x="296" y="375.53" width="1" height="3.27" fill="#5a5a5a"/>
<rect x="297" y="375.78" width="1" height="3.02" fill="#5a5a5a"/>
<rect x="297" y="375.59" width="1" height="3.21" fill="#5a5a5a"/>
<rect x="298" y="376.15" width="1" height="2.65" fill="#5a5a5a"/>
<rect x="298" y="376.62" width="1" height="2.18" fill="#5a5a5a"/>
<rect x="299" y="375.89" width="1" height="2.91" fill="#5a5a5a"/>
<rect x="299" y="376.39" width="1" height="2.41" fill="#5a5a5a"/>
<rect x="300" y="375.93" width="1" height="2.87" fill="#5a5a5a"/>
<rect x="300" y="375.01" width="1" height="3.79" fill="#5a5a5a"/>
<rect x="301" y="375.63" width="1" height="3.17" fill="#5a5a5a"/>
<rect x="301" y="375.07" width="1" height="3.73" fill="#5a5a5a"/>
<rect x="302" y="375.52" width="1" height="3.28" fill="#5a5a5a"/>
<rect x="302" y="375.39" width="1" height="3.41" fill="#5a5a5a"/>
<rect x="303" y="375.55" width="1" height="3.25" fill="#5a5a5a"/>
<rect x="303" y="375.21" width="1" height="3.59" fill="#5a5a5a"/>
<rect x="304" y="375.79" width="1" height="3.01" fill="#5a5a5a"/>
<rect x="304" y="375.57" width="1" height="3.23" fill="#5a5a5a"/>
<rect x="305" y="375.12" width="1" height="3.68" fill="#5a5a5a"/>
<rect x="305" y="374.24" width="1" height="4.56" fill="#5a5a5a"/>
<rect x="306" y="374.26" width="1" height="4.54" fill="#5a5a5a"/>
<rect x="306" y="373.78" width="1" height="5.02" fill="#5a5a5a"/>
<rect x="307" y="373.33" width="1" height="5.47" fill="#5a5a5a"/>
<rect x="307" y="373.25" width="1" height="5.55" fill="#5a5a5a"/>
<rect x="308" y="373.29" width="1" height="5.51" fill="#5a5a5a"/>
<rect x="308" y="373.44" width="1" height="5.36" fill="#5a5a5a"/>
<rect x="309" y="373.62" width="1" height="5.18" fill="#5a5a5a"/>
<rect x="309" y="374.25" width="1" height="4.55" fill="#5a5a5a"/>
<rect x="310" y="374.73" width="1" height="4.07" fill="#5a5a5a"/>
<rect x="310" y="374.76" width="1" height="4.04" fill="#5a5a5a"/>
<rect x="311" y="374.86" width="1" height="3.94" fill="#5a5a5a"/>
<rect x="311" y="375.39" width="1" height="3.41" fill="#5a5a5a"/>
<rect x="312" y="375.24" width="1" height="3.56" fill="#5a5a5a"/>
<rect x="312" y="375.69" width="1" height="3.11" fill="#5a5a5a"/>
<rect x="313" y="376.30" width="1" height="2.50" fill="#5a5a5a"/>
<rect x="313" y="375.98" width="1" height="2.82" fill="#5a5a5a"/>
<rect x="314" y="375.72" width="1" height="3.08" fill="#5a5a5a"/>
<rect x="314" y="376.58" width="1" height="2.22" fill="#5a5a5a"/>
<rect x="315" y="376.36" width="1" height="2.44" fill="#5a5a5a"/>
<rect x="315" y="375.94" width="1" height="2.86" fill="#5a5a5a"/>
<rect x="316" y="375.95" width="1" height="2.85" fill="#5a5a5a"/>
<rect x="316" y="376.14" width="1" height="2.66" fill="#5a5a5a"/>
<rect x="317" y="376.29" width="1" height="2.51" fill="#5a5a5a"/>
<rect x="317" y="375.98" width="1" height="2.82" fill="#5a5a5a"/>
<rect x="318" y="375.84" width="1" height="2.96" fill="#5a5a5a"/>
<rect x="318" y="376.22" width="1" height="2.58" fill="#5a5a5a"/>
<rect x="319" y="377.04" width="1" height="1.76" fill="#5a5a5a"/>
<rect x="319" y="376.38" width="1" height="2.42" fill="#5a5a5a"/>
<rect x="320" y="376.87" width="1" height="1.93" fill="#5a5a5a"/>
<rect x="320" y="376.66" width="1" height="2.14" fill="#5a5a5a"/>
<rect x="321" y="376.79" width="1" height="2.01" fill="#5a5a5a"/>
<rect x="321" y="376.80" width="1" height="2.00" fill="#5a5a5a"/>
<rect x="322" y="377.08" width="1" height="1.72" fill="#5a5a5a"/>
<rect x="322" y="376.80" width="1" height="2.00" fill="#5a5a5a"/>
<rect x="323" y="376.63" width="1" height="2.17" fill="#5a5a5a"/>
<rect x="323" y="376.73" width="1" height="2.07" fill="#5a5a5a"/>
<rect x="324" y="376.80" width="1" height="2.00" fill="#5a5a5a"/>
<rect x="324" y="377.19" width="1" height="1.61" fill="#5a5a5a"/>
<rect x="325" y="376.67" width="1" height="2.13" fill="#5a5a5a"/>
<rect x="325" y="376.63" width="1" height="2.17" fill="#5a5a5a"/>
<rect x="326" y="377.14" width="1" height="1.66" fill="#5a5a5a"/>
<rect x="326" y="377.11" width="1" height="1.69" fill="#5a5a5a"/>
<rect x="327" y="377.48" width="1" height="1.32" fill="#5a5a5a"/>
<rect x="327" y="376.72" width="1" height="2.08" fill="#5a5a5a"/>
<rect x="328" y="377.16" width="1" height="1.64" fill="#5a5a5a"/>
<rect x="328" y="377.17" width="1" height="1.63" fill="#5a5a5a"/>
<rect x="329" y="376.74" width="1" height="2.06" fill="#5a5a5a"/>
<rect x="329" y="377.89" width="1" height="0.91" fill="#5a5a5a"/>
<rect x="330" y="377.01" width="1" height="1.79" fill="#5a5a5a"/>
<rect x="330" y="376.88" width="1" height="1.92" fill="#5a5a5a"/>
<rect x="331" y="377.36" width="1" height="1.44" fill="#5a5a5a"/>
<rect x="331" y="377.00" width="1" height="1.80" fill="#5a5a5a"/>
<rect x="332" y="377.57" width="1" height="1.23" fill="#5a5a5a"/>
<rect x="332" y="377.26" width="1" height="1.54" fill="#5a5a5a"/>
<rect x="333" y="377.01" width="1" height="1.79" fill="#5a5a5a"/>
<rect x="333" y="376.94" width="1" height="1.86" fill="#5a5a5a"/>
<rect x="334" y="377.77" width="1" height="1.03" fill="#999"/>
<rect x="334" y="377.48" width="1" height="1.32" fill="#999"/>
<rect x="335" y="378.35" width="1" height="0.45" fill="#999"/>
<rect x="335" y="377.96" width="1" height="0.84" fill="#999"/>
<rect x="336" y="378.52" width="1" height="0.30" fill="#999"/>
<rect x="336" y="377.77" width="1" height="1.03" fill="#999"/>
<rect x="337" y="377.71" width="1" height="1.09" fill="#999"/>
<rect x="337" y="377.73" width="1" height="1.07" fill="#999"/>
<rect x="338" y="378.39" width="1" height="0.41" fill="#999"/>
<rect x="338" y="378.17" width="1" height="0.63" fill="#999"/>
<rect x="339" y="377.83" width="1" height="0.97" fill="#999"/>
<rect x="339" y="377.53" width="1" height="1.27" fill="#999"/>
<rect x="340" y="378.24" width="1" height="0.56" fill="#999"/>
<rect x="340" y="378.59" width="1" height="0.30" fill="#999"/>
<rect x="341" y="378.14" width="1" height="0.66" fill="#999"/>
<rect x="341" y="377.43" width="1" height="1.37" fill="#999"/>
<rect x="342" y="377.47" width="1" height="1.33" fill="#999"/>
<rect x="342" y="377.54" width="1" height="1.26" fill="#999"/>
<rect x="343" y="377.64" width="1" height="1.16" fill="#999"/>
<rect x="343" y="377.48" width="1" height="1.32" fill="#999"/>
<rect x="344" y="377.50" width="1" height="1.30" fill="#999"/>
<rect x="344" y="378.23" width="1" height="0.57" fill="#999"/>
<rect x="345" y="378.52" width="1" height="0.30" fill="#999"/>
<rect x="345" y="377.69" width="1" height="1.11" fill="#999"/>
<rect x="346" y="378.60" width="1" height="0.30" fill="#999"/>
<rect x="346" y="378.02" width="1" height="0.78" fill="#999"/>
<rect x="347" y="378.42" width="1" height="0.38" fill="#999"/>
<rect x="347" y="378.56" width="1" height="0.30" fill="#999"/>
<rect x="348" y="378.58" width="1" height="0.30" fill="#999"/>
<rect x="348" y="377.50" width="1" height="1.30" fill="#999"/>
<rect x="349" y="377.83" width="1" height="0.97" fill="#999"/>
<rect x="349" y="378.19" width="1" height="0.61" fill="#999"/>
<rect x="350" y="378.60" width="1" height="0.30" fill="#999"/>
<rect x="350" y="377.57" width="1" height="1.23" fill="#999"/>
<rect x="351" y="377.82" width="1" height="0.98" fill="#999"/>
<rect x="351" y="378.49" width="1" height="0.31" fill="#999"/>
<rect x="352" y="377.61" width="1" height="1.19" fill="#999"/>
<rect x="352" y="377.94" width="1" height="0.86" fill="#999"/>
<rect x="353" y="377.88" width="1" height="0.92" fill="#999"/>
<rect x="353" y="378.30" width="1" height="0.50" fill="#999"/>
<rect x="354" y="378.60" width="1" height="0.30" fill="#999"/>
<rect x="354" y="377.69" width="1" height="1.11" fill="#999"/>
<rect x="355" y="378.37" width="1" height="0.43" fill="#999"/>
<rect x="355" y="378.37" width="1" height="0.43" fill="#999"/>
<rect x="356" y="378.49" width="1" height="0.31" fill="#999"/>
<rect x="356" y="378.16" width="1" height="0.64" fill="#999"/>
<rect x="357" y="378.60" width="1" height="0.30" fill="#999"/>
<rect x="357" y="377.93" width="1" height="0.87" fill="#999"/>
<line x1="266.2" y1="380.2" x2="380.6" y2="380.2" stroke="#8a8a8a" stroke-width="1.1"/>
<line x1="266.2" y1="380.2" x2="266.2" y2="382.4" stroke="#8a8a8a" stroke-width="0.9"/>
<text x="266.2" y="390.9" font-family="Liberation Sans, sans-serif" stroke="#666" stroke-width="0.08" font-size="5.3" textLength="9.2" lengthAdjust="spacingAndGlyphs" fill="#3a3a3a" text-anchor="middle">0.00</text>
<line x1="294.8" y1="380.2" x2="294.8" y2="382.4" stroke="#8a8a8a" stroke-width="0.9"/>
<text x="294.8" y="390.9" font-family="Liberation Sans, sans-serif" stroke="#666" stroke-width="0.08" font-size="5.3" textLength="9.2" lengthAdjust="spacingAndGlyphs" fill="#3a3a3a" text-anchor="middle">0.05</text>
<line x1="323.4" y1="380.2" x2="323.4" y2="382.4" stroke="#8a8a8a" stroke-width="0.9"/>
<text x="323.4" y="390.9" font-family="Liberation Sans, sans-serif" stroke="#666" stroke-width="0.08" font-size="5.3" textLength="9.2" lengthAdjust="spacingAndGlyphs" fill="#3a3a3a" text-anchor="middle">0.10</text>
<line x1="352.0" y1="380.2" x2="352.0" y2="382.4" stroke="#8a8a8a" stroke-width="0.9"/>
<text x="352.0" y="390.9" font-family="Liberation Sans, sans-serif" stroke="#666" stroke-width="0.08" font-size="5.3" textLength="9.2" lengthAdjust="spacingAndGlyphs" fill="#3a3a3a" text-anchor="middle">0.15</text>
<line x1="380.6" y1="380.2" x2="380.6" y2="382.4" stroke="#8a8a8a" stroke-width="0.9"/>
<text x="380.6" y="390.9" font-family="Liberation Sans, sans-serif" stroke="#666" stroke-width="0.08" font-size="5.3" textLength="9.2" lengthAdjust="spacingAndGlyphs" fill="#3a3a3a" text-anchor="middle">0.20</text>
<text x="323.4" y="402.2" font-family="Liberation Serif, serif" font-weight="bold" stroke="#111" stroke-width="0.3" font-size="6.5" textLength="54.5" lengthAdjust="spacingAndGlyphs" fill="#222" text-anchor="middle">Predicted Probability</text>
<text x="483.2" y="221.7" font-family="Liberation Serif, serif" font-weight="bold" stroke="#111" stroke-width="0.3" font-size="6.2" textLength="89.4" lengthAdjust="spacingAndGlyphs" fill="#111" text-anchor="middle">Calibration plot of SSE prediction</text>
<text x="483.2" y="229.5" font-family="Liberation Serif, serif" font-weight="bold" stroke="#111" stroke-width="0.3" font-size="6.2" textLength="41.5" lengthAdjust="spacingAndGlyphs" fill="#111" text-anchor="middle">mCARS (OAC)</text>
<text transform="translate(399.1,285.4) rotate(-90)" x="0" y="2" font-family="Liberation Serif, serif" font-weight="bold" stroke="#111" stroke-width="0.3" font-size="6.5" textLength="55" lengthAdjust="spacingAndGlyphs" fill="#222" text-anchor="middle">Observed Probability</text>
<rect x="418.0" y="234.3" width="124.4" height="96.2" fill="none" stroke="#8a8a8a" stroke-width="1.1"/>
<line x1="422.6" y1="330.5" x2="422.6" y2="333.1" stroke="#8a8a8a" stroke-width="0.9"/>
<text x="422.6" y="341.8" font-family="Liberation Sans, sans-serif" stroke="#666" stroke-width="0.08" font-size="5.4" textLength="9.4" lengthAdjust="spacingAndGlyphs" fill="#3a3a3a" text-anchor="middle">0.00</text>
<line x1="415.4" y1="326.9" x2="418.0" y2="326.9" stroke="#8a8a8a" stroke-width="0.9"/>
<text x="412.6" y="329.3" font-family="Liberation Sans, sans-serif" stroke="#666" stroke-width="0.08" font-size="5.4" textLength="9.5" lengthAdjust="spacingAndGlyphs" fill="#3a3a3a" text-anchor="end">0.00</text>
<line x1="451.4" y1="330.5" x2="451.4" y2="333.1" stroke="#8a8a8a" stroke-width="0.9"/>
<text x="451.4" y="341.8" font-family="Liberation Sans, sans-serif" stroke="#666" stroke-width="0.08" font-size="5.4" textLength="9.4" lengthAdjust="spacingAndGlyphs" fill="#3a3a3a" text-anchor="middle">0.05</text>
<line x1="415.4" y1="304.7" x2="418.0" y2="304.7" stroke="#8a8a8a" stroke-width="0.9"/>
<text x="412.6" y="307.1" font-family="Liberation Sans, sans-serif" stroke="#666" stroke-width="0.08" font-size="5.4" textLength="9.5" lengthAdjust="spacingAndGlyphs" fill="#3a3a3a" text-anchor="end">0.05</text>
<line x1="480.2" y1="330.5" x2="480.2" y2="333.1" stroke="#8a8a8a" stroke-width="0.9"/>
<text x="480.2" y="341.8" font-family="Liberation Sans, sans-serif" stroke="#666" stroke-width="0.08" font-size="5.4" textLength="9.4" lengthAdjust="spacingAndGlyphs" fill="#3a3a3a" text-anchor="middle">0.10</text>
<line x1="415.4" y1="282.4" x2="418.0" y2="282.4" stroke="#8a8a8a" stroke-width="0.9"/>
<text x="412.6" y="284.8" font-family="Liberation Sans, sans-serif" stroke="#666" stroke-width="0.08" font-size="5.4" textLength="9.5" lengthAdjust="spacingAndGlyphs" fill="#3a3a3a" text-anchor="end">0.10</text>
<line x1="509.0" y1="330.5" x2="509.0" y2="333.1" stroke="#8a8a8a" stroke-width="0.9"/>
<text x="509.0" y="341.8" font-family="Liberation Sans, sans-serif" stroke="#666" stroke-width="0.08" font-size="5.4" textLength="9.4" lengthAdjust="spacingAndGlyphs" fill="#3a3a3a" text-anchor="middle">0.15</text>
<line x1="415.4" y1="260.1" x2="418.0" y2="260.1" stroke="#8a8a8a" stroke-width="0.9"/>
<text x="412.6" y="262.5" font-family="Liberation Sans, sans-serif" stroke="#666" stroke-width="0.08" font-size="5.4" textLength="9.5" lengthAdjust="spacingAndGlyphs" fill="#3a3a3a" text-anchor="end">0.15</text>
<line x1="537.8" y1="330.5" x2="537.8" y2="333.1" stroke="#8a8a8a" stroke-width="0.9"/>
<text x="537.8" y="341.8" font-family="Liberation Sans, sans-serif" stroke="#666" stroke-width="0.08" font-size="5.4" textLength="9.4" lengthAdjust="spacingAndGlyphs" fill="#3a3a3a" text-anchor="middle">0.20</text>
<line x1="415.4" y1="237.9" x2="418.0" y2="237.9" stroke="#8a8a8a" stroke-width="0.9"/>
<text x="412.6" y="240.3" font-family="Liberation Sans, sans-serif" stroke="#666" stroke-width="0.08" font-size="5.4" textLength="9.5" lengthAdjust="spacingAndGlyphs" fill="#3a3a3a" text-anchor="end">0.20</text>
<line x1="418.0" y1="330.5" x2="542.4" y2="234.3" stroke="#8466a2" stroke-width="1.15"/>
<line x1="418.0" y1="330.5" x2="542.4" y2="247.5" stroke="#7d7d7d" stroke-width="1.1"/>
<line x1="428.1" y1="317.4" x2="428.1" y2="327.7" stroke="#d2a6ae" stroke-width="1.2"/>
<rect x="427.2" y="323.7" width="1.8" height="1.8" fill="#c4304a"/>
<line x1="432.0" y1="305.1" x2="432.0" y2="322.6" stroke="#d2a6ae" stroke-width="1.2"/>
<rect x="431.1" y="314.5" width="1.8" height="1.8" fill="#c4304a"/>
<line x1="435.6" y1="309.7" x2="435.6" y2="324.6" stroke="#d2a6ae" stroke-width="1.2"/>
<rect x="434.7" y="317.8" width="1.8" height="1.8" fill="#c4304a"/>
<line x1="438.9" y1="304.6" x2="438.9" y2="322.1" stroke="#d2a6ae" stroke-width="1.2"/>
<rect x="438.0" y="314.0" width="1.8" height="1.8" fill="#c4304a"/>
<line x1="442.3" y1="298.1" x2="442.3" y2="317.9" stroke="#d2a6ae" stroke-width="1.2"/>
<rect x="441.4" y="308.8" width="1.8" height="1.8" fill="#c4304a"/>
<line x1="446.7" y1="303.3" x2="446.7" y2="321.3" stroke="#d2a6ae" stroke-width="1.2"/>
<rect x="445.8" y="312.7" width="1.8" height="1.8" fill="#c4304a"/>
<line x1="451.3" y1="298.1" x2="451.3" y2="318.7" stroke="#d2a6ae" stroke-width="1.2"/>
<rect x="450.4" y="308.8" width="1.8" height="1.8" fill="#c4304a"/>
<line x1="457.2" y1="298.9" x2="457.2" y2="318.7" stroke="#d2a6ae" stroke-width="1.2"/>
<rect x="456.3" y="308.8" width="1.8" height="1.8" fill="#c4304a"/>
<line x1="466.2" y1="283.2" x2="466.2" y2="309.7" stroke="#d2a6ae" stroke-width="1.2"/>
<rect x="465.3" y="297.2" width="1.8" height="1.8" fill="#c4304a"/>
<line x1="489.3" y1="260.3" x2="489.3" y2="293.0" stroke="#d2a6ae" stroke-width="1.2"/>
<rect x="488.4" y="277.4" width="1.8" height="1.8" fill="#c4304a"/>
<text x="428.7" y="250.5" font-family="Liberation Serif, serif" font-weight="bold" stroke="#111" stroke-width="0.3" font-size="6.2" textLength="45.1" lengthAdjust="spacingAndGlyphs" fill="#111">R<tspan font-size="3.8" dy="-2">2</tspan><tspan dy="2"> Linear = 0.844</tspan></text>
<text x="428.7" y="258.1" font-family="Liberation Serif, serif" font-weight="bold" stroke="#111" stroke-width="0.3" font-size="6.2" textLength="52.4" lengthAdjust="spacingAndGlyphs" fill="#111">y = 0.00459 + 2.33*x</text>
<line x1="418.1" y1="344.4" x2="418.1" y2="379.7" stroke="#8a8a8a" stroke-width="0.9"/>
<line x1="415.1" y1="379.5" x2="418.1" y2="379.5" stroke="#8a8a8a" stroke-width="0.9"/>
<text x="412.8" y="381.4" font-family="Liberation Sans, sans-serif" stroke="#666" stroke-width="0.08" font-size="5.3" textLength="2.6" lengthAdjust="spacingAndGlyphs" fill="#3a3a3a" text-anchor="end">0</text>
<line x1="415.1" y1="370.7" x2="418.1" y2="370.7" stroke="#8a8a8a" stroke-width="0.9"/>
<text x="412.8" y="372.7" font-family="Liberation Sans, sans-serif" stroke="#666" stroke-width="0.08" font-size="5.3" textLength="5.2" lengthAdjust="spacingAndGlyphs" fill="#3a3a3a" text-anchor="end">50</text>
<line x1="415.1" y1="361.9" x2="418.1" y2="361.9" stroke="#8a8a8a" stroke-width="0.9"/>
<text x="412.8" y="363.9" font-family="Liberation Sans, sans-serif" stroke="#666" stroke-width="0.08" font-size="5.3" textLength="7.8" lengthAdjust="spacingAndGlyphs" fill="#3a3a3a" text-anchor="end">100</text>
<line x1="415.1" y1="353.2" x2="418.1" y2="353.2" stroke="#8a8a8a" stroke-width="0.9"/>
<text x="412.8" y="355.1" font-family="Liberation Sans, sans-serif" stroke="#666" stroke-width="0.08" font-size="5.3" textLength="7.8" lengthAdjust="spacingAndGlyphs" fill="#3a3a3a" text-anchor="end">150</text>
<line x1="415.1" y1="344.4" x2="418.1" y2="344.4" stroke="#8a8a8a" stroke-width="0.9"/>
<text x="412.8" y="346.3" font-family="Liberation Sans, sans-serif" stroke="#666" stroke-width="0.08" font-size="5.3" textLength="7.8" lengthAdjust="spacingAndGlyphs" fill="#3a3a3a" text-anchor="end">200</text>
<rect x="423.0" y="378.60" width="50.0" height="0.90" fill="#555"/>
<rect x="423" y="378.55" width="1" height="0.95" fill="#111"/>
<rect x="423" y="377.97" width="1" height="1.53" fill="#111"/>
<rect x="424" y="377.98" width="1" height="1.52" fill="#111"/>
<rect x="424" y="377.31" width="1" height="2.19" fill="#111"/>
<rect x="425" y="376.72" width="1" height="2.78" fill="#111"/>
<rect x="425" y="376.14" width="1" height="3.36" fill="#111"/>
<rect x="426" y="376.08" width="1" height="3.42" fill="#111"/>
<rect x="426" y="375.48" width="1" height="4.02" fill="#111"/>
<rect x="427" y="375.07" width="1" height="4.43" fill="#111"/>
<rect x="427" y="374.54" width="1" height="4.96" fill="#111"/>
<rect x="428" y="374.36" width="1" height="5.14" fill="#111"/>
<rect x="428" y="373.82" width="1" height="5.68" fill="#111"/>
<rect x="429" y="374.47" width="1" height="5.03" fill="#111"/>
<rect x="429" y="374.12" width="1" height="5.38" fill="#111"/>
<rect x="430" y="374.67" width="1" height="4.83" fill="#111"/>
<rect x="430" y="374.94" width="1" height="4.56" fill="#111"/>
<rect x="431" y="374.91" width="1" height="4.59" fill="#111"/>
<rect x="431" y="374.55" width="1" height="4.95" fill="#111"/>
<rect x="432" y="375.00" width="1" height="4.50" fill="#111"/>
<rect x="432" y="375.83" width="1" height="3.67" fill="#111"/>
<rect x="433" y="376.01" width="1" height="3.49" fill="#111"/>
<rect x="433" y="376.55" width="1" height="2.95" fill="#111"/>
<rect x="434" y="376.89" width="1" height="2.61" fill="#111"/>
<rect x="434" y="376.81" width="1" height="2.69" fill="#111"/>
<rect x="435" y="377.28" width="1" height="2.22" fill="#111"/>
<rect x="435" y="377.27" width="1" height="2.23" fill="#111"/>
<rect x="436" y="377.07" width="1" height="2.43" fill="#111"/>
<rect x="436" y="377.21" width="1" height="2.29" fill="#111"/>
<rect x="437" y="377.09" width="1" height="2.41" fill="#111"/>
<rect x="437" y="377.47" width="1" height="2.03" fill="#111"/>
<rect x="438" y="378.03" width="1" height="1.47" fill="#111"/>
<rect x="438" y="377.47" width="1" height="2.03" fill="#111"/>
<rect x="439" y="377.96" width="1" height="1.54" fill="#111"/>
<rect x="439" y="377.65" width="1" height="1.85" fill="#111"/>
<rect x="440" y="377.68" width="1" height="1.82" fill="#111"/>
<rect x="440" y="378.20" width="1" height="1.30" fill="#111"/>
<rect x="441" y="377.93" width="1" height="1.57" fill="#111"/>
<rect x="441" y="377.83" width="1" height="1.67" fill="#111"/>
<rect x="442" y="377.98" width="1" height="1.52" fill="#111"/>
<rect x="442" y="378.42" width="1" height="1.08" fill="#111"/>
<rect x="443" y="378.39" width="1" height="1.11" fill="#111"/>
<rect x="443" y="377.95" width="1" height="1.55" fill="#111"/>
<rect x="444" y="378.15" width="1" height="1.35" fill="#111"/>
<rect x="444" y="378.70" width="1" height="0.80" fill="#111"/>
<rect x="445" y="378.18" width="1" height="1.32" fill="#666"/>
<rect x="445" y="378.45" width="1" height="1.05" fill="#666"/>
<rect x="446" y="378.34" width="1" height="1.16" fill="#666"/>
<rect x="446" y="378.63" width="1" height="0.87" fill="#666"/>
<rect x="447" y="378.49" width="1" height="1.01" fill="#666"/>
<rect x="447" y="378.64" width="1" height="0.86" fill="#666"/>
<rect x="448" y="378.44" width="1" height="1.06" fill="#666"/>
<rect x="448" y="378.16" width="1" height="1.34" fill="#666"/>
<rect x="449" y="378.16" width="1" height="1.34" fill="#666"/>
<rect x="449" y="378.08" width="1" height="1.42" fill="#666"/>
<rect x="450" y="378.68" width="1" height="0.82" fill="#666"/>
<rect x="450" y="378.11" width="1" height="1.39" fill="#666"/>
<rect x="451" y="378.04" width="1" height="1.46" fill="#666"/>
<rect x="451" y="378.70" width="1" height="0.80" fill="#666"/>
<rect x="452" y="378.18" width="1" height="1.32" fill="#666"/>
<rect x="452" y="378.70" width="1" height="0.80" fill="#666"/>
<rect x="453" y="378.10" width="1" height="1.40" fill="#666"/>
<rect x="453" y="378.40" width="1" height="1.10" fill="#666"/>
<rect x="454" y="378.21" width="1" height="1.29" fill="#666"/>
<rect x="454" y="378.70" width="1" height="0.80" fill="#666"/>
<rect x="455" y="378.53" width="1" height="0.97" fill="#666"/>
<rect x="455" y="378.55" width="1" height="0.95" fill="#666"/>
<rect x="456" y="378.65" width="1" height="0.85" fill="#666"/>
<rect x="456" y="378.70" width="1" height="0.80" fill="#666"/>
<rect x="457" y="378.32" width="1" height="1.18" fill="#666"/>
<rect x="457" y="378.53" width="1" height="0.97" fill="#666"/>
<rect x="458" y="378.40" width="1" height="1.10" fill="#666"/>
<rect x="458" y="378.14" width="1" height="1.36" fill="#666"/>
<rect x="459" y="378.70" width="1" height="0.80" fill="#666"/>
<rect x="459" y="378.53" width="1" height="0.97" fill="#666"/>
<rect x="460" y="378.70" width="1" height="0.80" fill="#666"/>
<rect x="460" y="378.22" width="1" height="1.28" fill="#666"/>
<rect x="461" y="378.49" width="1" height="1.01" fill="#666"/>
<rect x="461" y="378.43" width="1" height="1.07" fill="#666"/>
<rect x="462" y="378.64" width="1" height="0.86" fill="#666"/>
<rect x="462" y="378.12" width="1" height="1.38" fill="#666"/>
<rect x="463" y="378.34" width="1" height="1.16" fill="#666"/>
<rect x="463" y="378.45" width="1" height="1.05" fill="#666"/>
<rect x="464" y="378.13" width="1" height="1.37" fill="#666"/>
<rect x="464" y="378.51" width="1" height="0.99" fill="#666"/>
<rect x="465" y="378.66" width="1" height="0.84" fill="#666"/>
<rect x="465" y="378.41" width="1" height="1.09" fill="#666"/>
<rect x="466" y="378.59" width="1" height="0.91" fill="#666"/>
<rect x="466" y="378.56" width="1" height="0.94" fill="#666"/>
<rect x="467" y="378.25" width="1" height="1.25" fill="#666"/>
<rect x="467" y="378.36" width="1" height="1.14" fill="#666"/>
<rect x="468" y="378.70" width="1" height="0.80" fill="#666"/>
<rect x="468" y="378.35" width="1" height="1.15" fill="#666"/>
<rect x="469" y="378.43" width="1" height="1.07" fill="#666"/>
<rect x="469" y="378.16" width="1" height="1.34" fill="#666"/>
<rect x="470" y="378.26" width="1" height="1.24" fill="#666"/>
<rect x="470" y="378.22" width="1" height="1.28" fill="#666"/>
<rect x="471" y="378.70" width="1" height="0.80" fill="#666"/>
<rect x="471" y="378.68" width="1" height="0.82" fill="#666"/>
<rect x="472" y="378.70" width="1" height="0.80" fill="#666"/>
<rect x="472" y="378.70" width="1" height="0.80" fill="#666"/>
<line x1="422.5" y1="380.9" x2="539.3" y2="380.9" stroke="#8a8a8a" stroke-width="1.1"/>
<line x1="422.5" y1="380.9" x2="422.5" y2="383.1" stroke="#8a8a8a" stroke-width="0.9"/>
<text x="422.5" y="391.6" font-family="Liberation Sans, sans-serif" stroke="#666" stroke-width="0.08" font-size="5.3" textLength="9.2" lengthAdjust="spacingAndGlyphs" fill="#3a3a3a" text-anchor="middle">0.00</text>
<line x1="451.7" y1="380.9" x2="451.7" y2="383.1" stroke="#8a8a8a" stroke-width="0.9"/>
<text x="451.7" y="391.6" font-family="Liberation Sans, sans-serif" stroke="#666" stroke-width="0.08" font-size="5.3" textLength="9.2" lengthAdjust="spacingAndGlyphs" fill="#3a3a3a" text-anchor="middle">0.05</text>
<line x1="480.9" y1="380.9" x2="480.9" y2="383.1" stroke="#8a8a8a" stroke-width="0.9"/>
<text x="480.9" y="391.6" font-family="Liberation Sans, sans-serif" stroke="#666" stroke-width="0.08" font-size="5.3" textLength="9.2" lengthAdjust="spacingAndGlyphs" fill="#3a3a3a" text-anchor="middle">0.10</text>
<line x1="510.1" y1="380.9" x2="510.1" y2="383.1" stroke="#8a8a8a" stroke-width="0.9"/>
<text x="510.1" y="391.6" font-family="Liberation Sans, sans-serif" stroke="#666" stroke-width="0.08" font-size="5.3" textLength="9.2" lengthAdjust="spacingAndGlyphs" fill="#3a3a3a" text-anchor="middle">0.15</text>
<line x1="539.3" y1="380.9" x2="539.3" y2="383.1" stroke="#8a8a8a" stroke-width="0.9"/>
<text x="539.3" y="391.6" font-family="Liberation Sans, sans-serif" stroke="#666" stroke-width="0.08" font-size="5.3" textLength="9.2" lengthAdjust="spacingAndGlyphs" fill="#3a3a3a" text-anchor="middle">0.20</text>
<text x="480.2" y="402.2" font-family="Liberation Serif, serif" font-weight="bold" stroke="#111" stroke-width="0.3" font-size="6.5" textLength="54.5" lengthAdjust="spacingAndGlyphs" fill="#222" text-anchor="middle">Predicted Probability</text>
</svg>
</body></html>
